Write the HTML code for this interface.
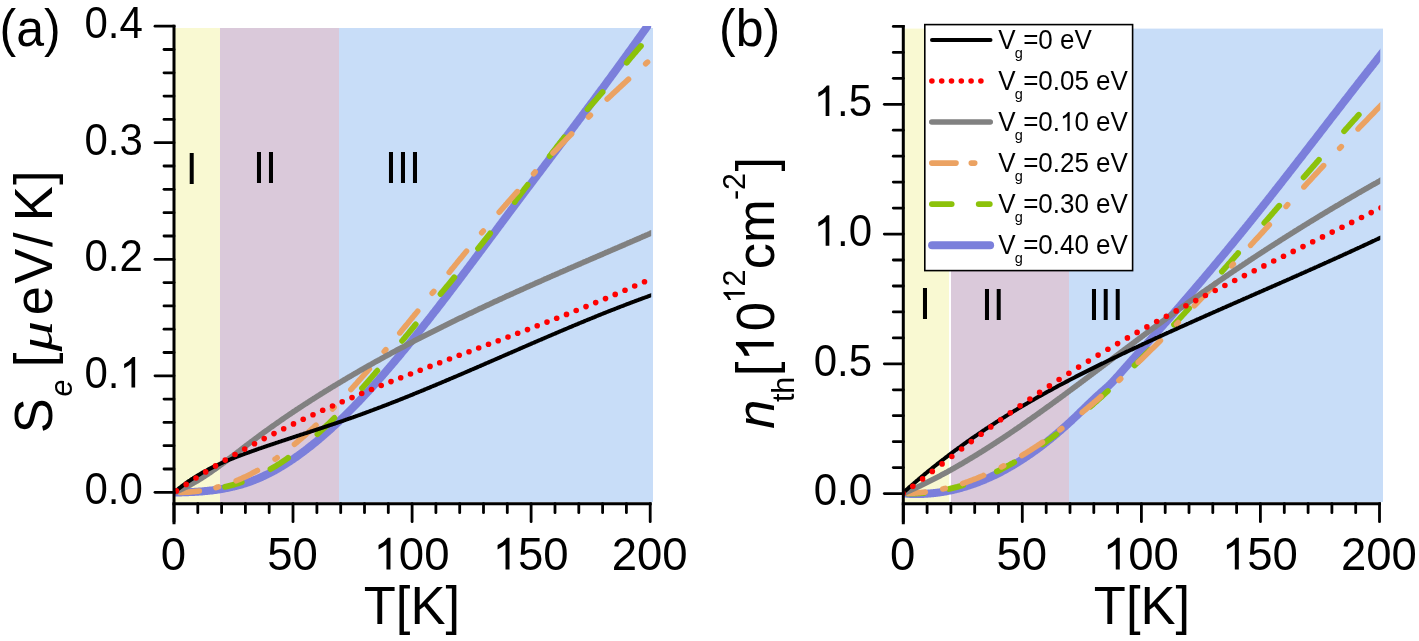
<!DOCTYPE html>
<html><head><meta charset="utf-8"><style>
html,body{margin:0;padding:0;background:#fff;}
svg{display:block;will-change:transform;}
text{font-family:"Liberation Sans",sans-serif;fill:#000;}
.ax{stroke:#000;stroke-width:3;stroke-linecap:square;}
.tk{stroke:#000;stroke-width:2.8;stroke-linecap:round;}
</style></head><body>
<svg width="1419" height="641" viewBox="0 0 1419 641">
<defs>
<clipPath id="ca"><rect x="174" y="25.9" width="477.2" height="477"/></clipPath>
<clipPath id="cb"><rect x="903" y="25.9" width="477.3" height="477"/></clipPath>
</defs>
<rect x="175" y="28" width="45" height="474" fill="#f9f9d2"/>
<rect x="220" y="28" width="119" height="474" fill="#dac9da"/>
<rect x="339" y="28" width="314" height="474" fill="#c8ddf8"/>
<rect x="904" y="28.6" width="45" height="473.4" fill="#f9f9d2"/>
<rect x="951" y="28.6" width="118" height="473.4" fill="#dac9da"/>
<rect x="1069" y="28.6" width="314" height="473.4" fill="#c8ddf8"/>
<g clip-path="url(#ca)" fill="none" stroke-linejoin="round">
<path d="M174.0 492.5 L175.0 492.5 L176.0 492.5 L177.0 492.4 L178.0 492.4 L179.0 492.4 L180.0 492.4 L181.0 492.4 L182.0 492.3 L183.0 492.3 L184.0 492.3 L185.0 492.3 L186.0 492.2 L187.0 492.2 L188.0 492.2 L189.0 492.1 L190.0 492.1 L191.0 492.0 L192.0 492.0 L193.0 492.0 L194.0 491.9 L195.0 491.8 L196.0 491.8 L197.0 491.7 L198.0 491.7 L199.0 491.6 L200.0 491.5 L201.0 491.5 L202.0 491.4 L203.0 491.3 L204.0 491.2 L205.0 491.1 L206.0 491.0 L207.0 490.9 L208.0 490.8 L209.0 490.7 L210.0 490.6 L211.0 490.5 L212.0 490.4 L213.0 490.3 L214.0 490.1 L215.0 490.0 L216.0 489.9 L217.0 489.7 L218.0 489.6 L219.0 489.4 L220.0 489.3 L221.0 489.1 L222.0 488.9 L223.0 488.8 L224.0 488.6 L225.0 488.4 L226.0 488.2 L227.0 488.0 L228.0 487.8 L229.0 487.6 L230.0 487.4 L231.0 487.2 L232.0 486.9 L233.0 486.7 L234.0 486.5 L235.0 486.2 L236.0 486.0 L237.0 485.7 L238.0 485.4 L239.0 485.2 L240.0 484.9 L241.0 484.6 L242.0 484.3 L243.0 484.0 L244.0 483.7 L245.0 483.4 L246.0 483.1 L247.0 482.7 L248.0 482.4 L249.0 482.1 L250.0 481.7 L251.0 481.3 L252.0 481.0 L253.0 480.6 L254.0 480.2 L255.0 479.8 L256.0 479.4 L257.0 479.0 L258.0 478.6 L259.0 478.1 L260.0 477.7 L261.0 477.3 L262.0 476.8 L263.0 476.4 L264.0 475.9 L265.0 475.4 L266.0 474.9 L267.0 474.5 L268.0 474.0 L269.0 473.5 L270.0 472.9 L271.0 472.4 L272.0 471.9 L273.0 471.4 L274.0 470.8 L275.0 470.3 L276.0 469.7 L277.0 469.1 L278.0 468.6 L279.0 468.0 L280.0 467.4 L281.0 466.8 L282.0 466.2 L283.0 465.6 L284.0 465.0 L285.0 464.4 L286.0 463.7 L287.0 463.1 L288.0 462.5 L289.0 461.8 L290.0 461.2 L291.0 460.5 L292.0 459.8 L293.0 459.2 L294.0 458.5 L295.0 457.8 L296.0 457.1 L297.0 456.4 L298.0 455.7 L299.0 455.0 L300.0 454.2 L301.0 453.5 L302.0 452.8 L303.0 452.0 L304.0 451.3 L305.0 450.5 L306.0 449.8 L307.0 449.0 L308.0 448.2 L309.0 447.4 L310.0 446.6 L311.0 445.9 L312.0 445.1 L313.0 444.2 L314.0 443.4 L315.0 442.6 L316.0 441.8 L317.0 441.0 L318.0 440.1 L319.0 439.3 L320.0 438.4 L321.0 437.6 L322.0 436.7 L323.0 435.9 L324.0 435.0 L325.0 434.1 L326.0 433.2 L327.0 432.4 L328.0 431.5 L329.0 430.6 L330.0 429.7 L331.0 428.8 L332.0 427.8 L333.0 426.9 L334.0 426.0 L335.0 425.1 L336.0 424.1 L337.0 423.2 L338.0 422.3 L339.0 421.3 L340.0 420.4 L341.0 419.4 L342.0 418.4 L343.0 417.5 L344.0 416.5 L345.0 415.5 L346.0 414.5 L347.0 413.5 L348.0 412.5 L349.0 411.5 L350.0 410.5 L351.0 409.5 L352.0 408.5 L353.0 407.5 L354.0 406.5 L355.0 405.4 L356.0 404.4 L357.0 403.4 L358.0 402.3 L359.0 401.3 L360.0 400.2 L361.0 399.2 L362.0 398.1 L363.0 397.0 L364.0 396.0 L365.0 394.9 L366.0 393.8 L367.0 392.7 L368.0 391.7 L369.0 390.6 L370.0 389.5 L371.0 388.4 L372.0 387.3 L373.0 386.2 L374.0 385.1 L375.0 384.0 L376.0 382.8 L377.0 381.7 L378.0 380.6 L379.0 379.5 L380.0 378.3 L381.0 377.2 L382.0 376.1 L383.0 374.9 L384.0 373.8 L385.0 372.6 L386.0 371.5 L387.0 370.3 L388.0 369.1 L389.0 368.0 L390.0 366.8 L391.0 365.6 L392.0 364.5 L393.0 363.3 L394.0 362.1 L395.0 360.9 L396.0 359.7 L397.0 358.5 L398.0 357.4 L399.0 356.2 L400.0 355.0 L401.0 353.7 L402.0 352.5 L403.0 351.3 L404.0 350.1 L405.0 348.9 L406.0 347.7 L407.0 346.5 L408.0 345.2 L409.0 344.0 L410.0 342.8 L411.0 341.6 L412.0 340.3 L413.0 339.1 L414.0 337.8 L415.0 336.6 L416.0 335.4 L417.0 334.1 L418.0 332.9 L419.0 331.6 L420.0 330.3 L421.0 329.1 L422.0 327.8 L423.0 326.6 L424.0 325.3 L425.0 324.0 L426.0 322.8 L427.0 321.5 L428.0 320.2 L429.0 318.9 L430.0 317.7 L431.0 316.4 L432.0 315.1 L433.0 313.8 L434.0 312.5 L435.0 311.3 L436.0 310.0 L437.0 308.7 L438.0 307.4 L439.0 306.1 L440.0 304.8 L441.0 303.5 L442.0 302.2 L443.0 300.9 L444.0 299.6 L445.0 298.3 L446.0 297.0 L447.0 295.7 L448.0 294.4 L449.0 293.0 L450.0 291.7 L451.0 290.4 L452.0 289.1 L453.0 287.8 L454.0 286.5 L455.0 285.1 L456.0 283.8 L457.0 282.5 L458.0 281.2 L459.0 279.9 L460.0 278.5 L461.0 277.2 L462.0 275.9 L463.0 274.5 L464.0 273.2 L465.0 271.9 L466.0 270.6 L467.0 269.2 L468.0 267.9 L469.0 266.6 L470.0 265.2 L471.0 263.9 L472.0 262.6 L473.0 261.2 L474.0 259.9 L475.0 258.5 L476.0 257.2 L477.0 255.9 L478.0 254.5 L479.0 253.2 L480.0 251.8 L481.0 250.5 L482.0 249.2 L483.0 247.8 L484.0 246.5 L485.0 245.1 L486.0 243.8 L487.0 242.5 L488.0 241.1 L489.0 239.8 L490.0 238.4 L491.0 237.1 L492.0 235.7 L493.0 234.4 L494.0 233.1 L495.0 231.7 L496.0 230.4 L497.0 229.0 L498.0 227.7 L499.0 226.3 L500.0 225.0 L501.0 223.7 L502.0 222.3 L503.0 221.0 L504.0 219.6 L505.0 218.3 L506.0 217.0 L507.0 215.6 L508.0 214.3 L509.0 212.9 L510.0 211.6 L511.0 210.3 L512.0 208.9 L513.0 207.6 L514.0 206.3 L515.0 204.9 L516.0 203.6 L517.0 202.3 L518.0 200.9 L519.0 199.6 L520.0 198.3 L521.0 196.9 L522.0 195.6 L523.0 194.3 L524.0 192.9 L525.0 191.6 L526.0 190.3 L527.0 188.9 L528.0 187.6 L529.0 186.3 L530.0 185.0 L531.0 183.6 L532.0 182.3 L533.0 181.0 L534.0 179.6 L535.0 178.3 L536.0 177.0 L537.0 175.7 L538.0 174.3 L539.0 173.0 L540.0 171.7 L541.0 170.4 L542.0 169.0 L543.0 167.7 L544.0 166.4 L545.0 165.0 L546.0 163.7 L547.0 162.4 L548.0 161.1 L549.0 159.7 L550.0 158.4 L551.0 157.1 L552.0 155.8 L553.0 154.4 L554.0 153.1 L555.0 151.8 L556.0 150.5 L557.0 149.1 L558.0 147.8 L559.0 146.5 L560.0 145.1 L561.0 143.8 L562.0 142.5 L563.0 141.2 L564.0 139.8 L565.0 138.5 L566.0 137.2 L567.0 135.8 L568.0 134.5 L569.0 133.2 L570.0 131.8 L571.0 130.5 L572.0 129.2 L573.0 127.8 L574.0 126.5 L575.0 125.2 L576.0 123.8 L577.0 122.5 L578.0 121.2 L579.0 119.8 L580.0 118.5 L581.0 117.2 L582.0 115.8 L583.0 114.5 L584.0 113.1 L585.0 111.8 L586.0 110.5 L587.0 109.1 L588.0 107.8 L589.0 106.4 L590.0 105.1 L591.0 103.8 L592.0 102.4 L593.0 101.1 L594.0 99.7 L595.0 98.4 L596.0 97.0 L597.0 95.7 L598.0 94.3 L599.0 93.0 L600.0 91.6 L601.0 90.3 L602.0 88.9 L603.0 87.6 L604.0 86.2 L605.0 84.9 L606.0 83.5 L607.0 82.1 L608.0 80.8 L609.0 79.4 L610.0 78.1 L611.0 76.7 L612.0 75.3 L613.0 74.0 L614.0 72.6 L615.0 71.2 L616.0 69.9 L617.0 68.5 L618.0 67.1 L619.0 65.8 L620.0 64.4 L621.0 63.0 L622.0 61.6 L623.0 60.3 L624.0 58.9 L625.0 57.5 L626.0 56.1 L627.0 54.7 L628.0 53.3 L629.0 52.0 L630.0 50.6 L631.0 49.2 L632.0 47.8 L633.0 46.4 L634.0 45.0 L635.0 43.6 L636.0 42.2 L637.0 40.8 L638.0 39.4 L639.0 38.0 L640.0 36.6 L641.0 35.2 L642.0 33.8 L643.0 32.4 L644.0 31.0 L645.0 29.6 L646.0 28.2 L647.0 26.8 L648.0 25.4 L649.0 24.0 L650.0 22.5 L651.0 21.1 L652.0 19.7 L653.0 18.3 L654.0 16.8 L655.0 15.4 L656.0 14.0 L657.0 12.6" stroke="#7b7fdb" stroke-width="8"/>
<path d="M225.0 486.9 L226.0 486.6 L227.0 486.4 L228.0 486.2 L229.0 485.9 L230.0 485.7 L231.0 485.4 L232.0 485.2 L233.0 484.9 L234.0 484.6 L235.0 484.3 L236.0 484.0 L237.0 483.7 L238.0 483.4 L239.0 483.1 L240.0 482.8 L241.0 482.4 L241.8 482.2 M270.5 469.1 L271.0 468.8 L272.0 468.2 L273.0 467.7 L274.0 467.1 L275.0 466.5 L276.0 465.9 L277.0 465.2 L278.0 464.6 L279.0 464.0 L280.0 463.4 L281.0 462.7 L282.0 462.1 L283.0 461.4 L284.0 460.7 L285.0 460.1 L286.0 459.4 L287.0 458.7 L288.0 458.0 L288.1 457.9 M317.4 434.2 L318.0 433.6 L319.0 432.7 L320.0 431.8 L321.0 430.8 L322.0 429.9 L323.0 429.0 L324.0 428.0 L325.0 427.1 L326.0 426.1 L327.0 425.1 L328.0 424.2 L329.0 423.2 L330.0 422.2 L331.0 421.2 L332.0 420.2 L333.0 419.2 L334.0 418.2 L334.4 417.9 M362.0 388.3 L363.0 387.2 L364.0 386.0 L365.0 384.9 L366.0 383.8 L367.0 382.6 L368.0 381.5 L369.0 380.3 L370.0 379.2 L371.0 378.0 L372.0 376.9 L373.0 375.7 L374.0 374.5 L375.0 373.4 L376.0 372.2 L377.0 371.0 L377.3 370.7 M402.1 340.9 L403.0 339.9 L404.0 338.7 L405.0 337.4 L406.0 336.2 L407.0 335.0 L408.0 333.8 L409.0 332.6 L410.0 331.3 L411.0 330.1 L412.0 328.9 L413.0 327.7 L414.0 326.4 L415.0 325.2 L415.7 324.4 M440.5 294.0 L441.0 293.4 L442.0 292.2 L443.0 291.0 L444.0 289.8 L445.0 288.6 L446.0 287.4 L447.0 286.2 L448.0 285.0 L449.0 283.8 L450.0 282.6 L451.0 281.4 L452.0 280.1 L453.0 278.9 L454.0 277.7 L454.3 277.3 M478.0 248.5 L479.0 247.3 L480.0 246.1 L481.0 244.9 L482.0 243.6 L483.0 242.4 L484.0 241.1 L485.0 239.9 L486.0 238.6 L487.0 237.4 L488.0 236.1 L489.0 234.9 L490.0 233.6 L490.2 233.3 M514.7 201.9 L515.0 201.4 L516.0 200.1 L517.0 198.8 L518.0 197.5 L519.0 196.2 L520.0 194.9 L521.0 193.6 L522.0 192.3 L523.0 191.0 L524.0 189.6 L525.0 188.3 L526.0 187.0 L527.0 185.7 L527.6 184.9 M549.7 156.1 L550.0 155.7 L551.0 154.4 L552.0 153.1 L553.0 151.8 L554.0 150.5 L555.0 149.2 L556.0 147.9 L557.0 146.6 L558.0 145.3 L559.0 144.1 L560.0 142.8 L561.0 141.5 L562.0 140.2 L563.0 139.0 L564.0 137.7 L564.3 137.3 M587.5 109.2 L588.0 108.7 L589.0 107.5 L590.0 106.4 L591.0 105.2 L592.0 104.1 L593.0 103.0 L594.0 101.8 L595.0 100.7 L596.0 99.6 L597.0 98.4 L598.0 97.3 L599.0 96.1 L600.0 95.0 L601.0 93.8 L602.0 92.7 L602.6 92.0 M626.7 62.7 L627.0 62.4 L628.0 61.1 L629.0 59.9 L630.0 58.7 L631.0 57.5 L632.0 56.3 L633.0 55.1 L634.0 53.9 L635.0 52.8 L636.0 51.6 L637.0 50.4 L638.0 49.3 L639.0 48.1 L640.0 47.0 L640.9 46.0" stroke="#8cc20a" stroke-width="5.8" stroke-linecap="round"/>
<path d="M180.1 492.4 L181.0 492.4 L182.0 492.4 L183.0 492.4 L184.0 492.3 L185.0 492.3 L186.0 492.3 L187.0 492.2 L188.0 492.1 L189.0 492.1 L190.0 492.0 L191.0 491.9 L192.0 491.8 L193.0 491.7 L194.0 491.6 L195.0 491.5 L196.0 491.4 L197.0 491.3 L198.0 491.2 L199.0 491.0 L199.3 491.0 M216.0 487.6 L217.0 487.3 L218.0 487.0 L218.4 486.9 M236.2 480.8 L237.0 480.4 L238.0 480.0 L239.0 479.6 L240.0 479.2 L241.0 478.7 L242.0 478.3 L243.0 477.8 L244.0 477.3 L245.0 476.9 L246.0 476.4 L247.0 475.9 L248.0 475.4 L249.0 474.9 L250.0 474.4 L251.0 473.9 L252.0 473.3 L253.0 472.8 L254.0 472.3 L255.0 471.7 L256.0 471.2 L257.0 470.6 L257.4 470.4 M275.1 459.1 L276.0 458.5 L277.0 457.8 L277.1 457.7 M294.5 444.3 L295.0 443.9 L296.0 443.0 L297.0 442.2 L298.0 441.3 L299.0 440.5 L300.0 439.6 L301.0 438.8 L302.0 437.9 L303.0 437.0 L304.0 436.2 L305.0 435.3 L306.0 434.4 L307.0 433.5 L308.0 432.6 L309.0 431.7 L310.0 430.8 L311.0 429.8 L312.0 428.9 L313.0 428.0 L314.0 427.1 L315.0 426.1 L316.0 425.2 M332.5 409.0 L333.0 408.4 L334.0 407.4 L334.1 407.3 M350.9 389.5 L351.0 389.4 L352.0 388.3 L353.0 387.2 L354.0 386.1 L355.0 385.0 L356.0 383.9 L357.0 382.8 L358.0 381.6 L359.0 380.5 L360.0 379.4 L361.0 378.3 L362.0 377.2 L363.0 376.0 L364.0 374.9 L365.0 373.8 L366.0 372.6 L367.0 371.5 L368.0 370.4 L369.0 369.2 L369.3 368.9 M384.2 351.5 L385.0 350.6 L385.8 349.7 M399.8 332.9 L400.0 332.7 L401.0 331.5 L402.0 330.2 L403.0 329.0 L404.0 327.8 L405.0 326.6 L406.0 325.4 L407.0 324.2 L408.0 323.0 L409.0 321.7 L410.0 320.5 L411.0 319.3 L412.0 318.1 L413.0 316.9 L414.0 315.6 L415.0 314.4 L416.0 313.2 L417.0 312.0 L417.7 311.1 M432.2 293.2 L433.0 292.3 L433.8 291.4 M449.2 272.4 L450.0 271.4 L451.0 270.1 L452.0 268.9 L453.0 267.7 L454.0 266.5 L455.0 265.2 L456.0 264.0 L457.0 262.8 L458.0 261.5 L459.0 260.3 L460.0 259.1 L461.0 257.9 L462.0 256.7 L463.0 255.4 L464.0 254.2 L465.0 253.0 L466.0 251.8 L466.5 251.2 M481.7 232.8 L482.0 232.5 L483.0 231.3 L483.3 231.0 M499.2 212.2 L500.0 211.3 L501.0 210.2 L502.0 209.0 L503.0 207.9 L504.0 206.7 L505.0 205.6 L506.0 204.4 L507.0 203.3 L508.0 202.1 L509.0 201.0 L510.0 199.9 L511.0 198.7 L512.0 197.6 L513.0 196.5 L514.0 195.3 L515.0 194.2 L516.0 193.1 L517.0 192.0 L517.3 191.6 M533.6 173.7 L534.0 173.3 L535.0 172.2 L535.2 171.9 M553.0 153.0 L554.0 152.0 L555.0 151.0 L556.0 149.9 L557.0 148.9 L558.0 147.9 L559.0 146.8 L560.0 145.8 L561.0 144.8 L562.0 143.7 L563.0 142.7 L564.0 141.7 L565.0 140.7 L566.0 139.6 L567.0 138.6 L568.0 137.6 L569.0 136.6 L570.0 135.6 L571.0 134.6 L571.6 133.9 M588.6 117.0 L589.0 116.6 L590.0 115.7 L590.4 115.3 M607.2 99.1 L608.0 98.3 L609.0 97.4 L610.0 96.5 L611.0 95.5 L612.0 94.6 L613.0 93.6 L614.0 92.7 L615.0 91.7 L616.0 90.8 L617.0 89.9 L618.0 88.9 L619.0 88.0 L620.0 87.1 L621.0 86.2 L622.0 85.2 L623.0 84.3 L624.0 83.4 L625.0 82.5 L626.0 81.5 L627.0 80.6 L628.0 79.7 L628.5 79.2 M645.7 63.7 L646.0 63.4 L647.0 62.5 L647.5 62.1" stroke="#eba262" stroke-width="5.6" stroke-linecap="round"/>
<path d="M174.0 492.5 L175.0 492.1 L176.0 491.7 L177.0 491.3 L178.0 490.9 L179.0 490.4 L180.0 490.0 L181.0 489.5 L182.0 489.0 L183.0 488.6 L184.0 488.1 L185.0 487.6 L186.0 487.1 L187.0 486.5 L188.0 486.0 L189.0 485.5 L190.0 485.0 L191.0 484.4 L192.0 483.8 L193.0 483.3 L194.0 482.7 L195.0 482.1 L196.0 481.5 L197.0 481.0 L198.0 480.4 L199.0 479.7 L200.0 479.1 L201.0 478.5 L202.0 477.9 L203.0 477.2 L204.0 476.6 L205.0 475.9 L206.0 475.3 L207.0 474.6 L208.0 474.0 L209.0 473.3 L210.0 472.6 L211.0 471.9 L212.0 471.2 L213.0 470.5 L214.0 469.8 L215.0 469.1 L216.0 468.4 L217.0 467.7 L218.0 467.0 L219.0 466.2 L220.0 465.5 L221.0 464.8 L222.0 464.0 L223.0 463.3 L224.0 462.6 L225.0 461.8 L226.0 461.1 L227.0 460.3 L228.0 459.6 L229.0 458.8 L230.0 458.0 L231.0 457.3 L232.0 456.5 L233.0 455.8 L234.0 455.0 L235.0 454.2 L236.0 453.5 L237.0 452.7 L238.0 451.9 L239.0 451.2 L240.0 450.4 L241.0 449.6 L242.0 448.9 L243.0 448.1 L244.0 447.3 L245.0 446.6 L246.0 445.8 L247.0 445.0 L248.0 444.3 L249.0 443.5 L250.0 442.8 L251.0 442.0 L252.0 441.2 L253.0 440.5 L254.0 439.7 L255.0 439.0 L256.0 438.2 L257.0 437.5 L258.0 436.8 L259.0 436.0 L260.0 435.3 L261.0 434.5 L262.0 433.8 L263.0 433.1 L264.0 432.3 L265.0 431.6 L266.0 430.9 L267.0 430.2 L268.0 429.5 L269.0 428.7 L270.0 428.0 L271.0 427.3 L272.0 426.6 L273.0 425.9 L274.0 425.2 L275.0 424.5 L276.0 423.8 L277.0 423.1 L278.0 422.4 L279.0 421.7 L280.0 421.0 L281.0 420.3 L282.0 419.6 L283.0 418.9 L284.0 418.2 L285.0 417.5 L286.0 416.8 L287.0 416.2 L288.0 415.5 L289.0 414.8 L290.0 414.1 L291.0 413.5 L292.0 412.8 L293.0 412.1 L294.0 411.4 L295.0 410.8 L296.0 410.1 L297.0 409.4 L298.0 408.8 L299.0 408.1 L300.0 407.5 L301.0 406.8 L302.0 406.2 L303.0 405.5 L304.0 404.8 L305.0 404.2 L306.0 403.6 L307.0 402.9 L308.0 402.3 L309.0 401.6 L310.0 401.0 L311.0 400.3 L312.0 399.7 L313.0 399.1 L314.0 398.4 L315.0 397.8 L316.0 397.2 L317.0 396.5 L318.0 395.9 L319.0 395.3 L320.0 394.6 L321.0 394.0 L322.0 393.4 L323.0 392.8 L324.0 392.1 L325.0 391.5 L326.0 390.9 L327.0 390.3 L328.0 389.7 L329.0 389.1 L330.0 388.4 L331.0 387.8 L332.0 387.2 L333.0 386.6 L334.0 386.0 L335.0 385.4 L336.0 384.8 L337.0 384.2 L338.0 383.6 L339.0 383.0 L340.0 382.4 L341.0 381.8 L342.0 381.2 L343.0 380.6 L344.0 380.0 L345.0 379.4 L346.0 378.8 L347.0 378.2 L348.0 377.6 L349.0 377.0 L350.0 376.5 L351.0 375.9 L352.0 375.3 L353.0 374.7 L354.0 374.1 L355.0 373.5 L356.0 373.0 L357.0 372.4 L358.0 371.8 L359.0 371.2 L360.0 370.6 L361.0 370.1 L362.0 369.5 L363.0 368.9 L364.0 368.3 L365.0 367.8 L366.0 367.2 L367.0 366.6 L368.0 366.1 L369.0 365.5 L370.0 364.9 L371.0 364.4 L372.0 363.8 L373.0 363.3 L374.0 362.7 L375.0 362.1 L376.0 361.6 L377.0 361.0 L378.0 360.5 L379.0 359.9 L380.0 359.4 L381.0 358.8 L382.0 358.3 L383.0 357.7 L384.0 357.2 L385.0 356.6 L386.0 356.1 L387.0 355.5 L388.0 355.0 L389.0 354.4 L390.0 353.9 L391.0 353.3 L392.0 352.8 L393.0 352.3 L394.0 351.7 L395.0 351.2 L396.0 350.6 L397.0 350.1 L398.0 349.6 L399.0 349.0 L400.0 348.5 L401.0 348.0 L402.0 347.4 L403.0 346.9 L404.0 346.4 L405.0 345.9 L406.0 345.3 L407.0 344.8 L408.0 344.3 L409.0 343.8 L410.0 343.2 L411.0 342.7 L412.0 342.2 L413.0 341.7 L414.0 341.1 L415.0 340.6 L416.0 340.1 L417.0 339.6 L418.0 339.1 L419.0 338.6 L420.0 338.0 L421.0 337.5 L422.0 337.0 L423.0 336.5 L424.0 336.0 L425.0 335.5 L426.0 335.0 L427.0 334.5 L428.0 334.0 L429.0 333.5 L430.0 332.9 L431.0 332.4 L432.0 331.9 L433.0 331.4 L434.0 330.9 L435.0 330.4 L436.0 329.9 L437.0 329.4 L438.0 328.9 L439.0 328.4 L440.0 327.9 L441.0 327.4 L442.0 326.9 L443.0 326.4 L444.0 326.0 L445.0 325.5 L446.0 325.0 L447.0 324.5 L448.0 324.0 L449.0 323.5 L450.0 323.0 L451.0 322.5 L452.0 322.0 L453.0 321.5 L454.0 321.0 L455.0 320.6 L456.0 320.1 L457.0 319.6 L458.0 319.1 L459.0 318.6 L460.0 318.1 L461.0 317.7 L462.0 317.2 L463.0 316.7 L464.0 316.2 L465.0 315.7 L466.0 315.3 L467.0 314.8 L468.0 314.3 L469.0 313.8 L470.0 313.3 L471.0 312.9 L472.0 312.4 L473.0 311.9 L474.0 311.5 L475.0 311.0 L476.0 310.5 L477.0 310.0 L478.0 309.6 L479.0 309.1 L480.0 308.6 L481.0 308.2 L482.0 307.7 L483.0 307.2 L484.0 306.7 L485.0 306.3 L486.0 305.8 L487.0 305.3 L488.0 304.9 L489.0 304.4 L490.0 304.0 L491.0 303.5 L492.0 303.0 L493.0 302.6 L494.0 302.1 L495.0 301.6 L496.0 301.2 L497.0 300.7 L498.0 300.3 L499.0 299.8 L500.0 299.3 L501.0 298.9 L502.0 298.4 L503.0 298.0 L504.0 297.5 L505.0 297.1 L506.0 296.6 L507.0 296.1 L508.0 295.7 L509.0 295.2 L510.0 294.8 L511.0 294.3 L512.0 293.9 L513.0 293.4 L514.0 293.0 L515.0 292.5 L516.0 292.1 L517.0 291.6 L518.0 291.2 L519.0 290.7 L520.0 290.3 L521.0 289.8 L522.0 289.4 L523.0 288.9 L524.0 288.5 L525.0 288.0 L526.0 287.6 L527.0 287.1 L528.0 286.7 L529.0 286.2 L530.0 285.8 L531.0 285.3 L532.0 284.9 L533.0 284.5 L534.0 284.0 L535.0 283.6 L536.0 283.1 L537.0 282.7 L538.0 282.2 L539.0 281.8 L540.0 281.4 L541.0 280.9 L542.0 280.5 L543.0 280.0 L544.0 279.6 L545.0 279.1 L546.0 278.7 L547.0 278.3 L548.0 277.8 L549.0 277.4 L550.0 276.9 L551.0 276.5 L552.0 276.1 L553.0 275.6 L554.0 275.2 L555.0 274.8 L556.0 274.3 L557.0 273.9 L558.0 273.4 L559.0 273.0 L560.0 272.6 L561.0 272.1 L562.0 271.7 L563.0 271.3 L564.0 270.8 L565.0 270.4 L566.0 270.0 L567.0 269.5 L568.0 269.1 L569.0 268.6 L570.0 268.2 L571.0 267.8 L572.0 267.3 L573.0 266.9 L574.0 266.5 L575.0 266.0 L576.0 265.6 L577.0 265.2 L578.0 264.7 L579.0 264.3 L580.0 263.9 L581.0 263.4 L582.0 263.0 L583.0 262.6 L584.0 262.1 L585.0 261.7 L586.0 261.3 L587.0 260.8 L588.0 260.4 L589.0 260.0 L590.0 259.5 L591.0 259.1 L592.0 258.7 L593.0 258.2 L594.0 257.8 L595.0 257.4 L596.0 256.9 L597.0 256.5 L598.0 256.1 L599.0 255.7 L600.0 255.2 L601.0 254.8 L602.0 254.4 L603.0 253.9 L604.0 253.5 L605.0 253.1 L606.0 252.6 L607.0 252.2 L608.0 251.8 L609.0 251.3 L610.0 250.9 L611.0 250.5 L612.0 250.0 L613.0 249.6 L614.0 249.2 L615.0 248.7 L616.0 248.3 L617.0 247.9 L618.0 247.5 L619.0 247.0 L620.0 246.6 L621.0 246.2 L622.0 245.7 L623.0 245.3 L624.0 244.9 L625.0 244.4 L626.0 244.0 L627.0 243.6 L628.0 243.1 L629.0 242.7 L630.0 242.3 L631.0 241.8 L632.0 241.4 L633.0 241.0 L634.0 240.5 L635.0 240.1 L636.0 239.7 L637.0 239.2 L638.0 238.8 L639.0 238.4 L640.0 237.9 L641.0 237.5 L642.0 237.1 L643.0 236.6 L644.0 236.2 L645.0 235.8 L646.0 235.3 L647.0 234.9 L648.0 234.5 L649.0 234.0 L650.0 233.6 L651.0 233.1 L652.0 232.7 L653.0 232.3 L654.0 231.8 L655.0 231.4 L656.0 231.0 L657.0 230.5" stroke="#818181" stroke-width="5.6"/>
<path d="M174.0 492.5 L175.0 491.7 L176.0 490.8 L177.0 490.0 L178.0 489.2 L179.0 488.4 L180.0 487.6 L181.0 486.9 L182.0 486.1 L183.0 485.3 L184.0 484.6 L185.0 483.9 L186.0 483.1 L187.0 482.4 L188.0 481.7 L189.0 481.0 L190.0 480.4 L191.0 479.7 L192.0 479.0 L193.0 478.4 L194.0 477.7 L195.0 477.1 L196.0 476.5 L197.0 475.9 L198.0 475.3 L199.0 474.7 L200.0 474.1 L201.0 473.5 L202.0 472.9 L203.0 472.3 L204.0 471.8 L205.0 471.2 L206.0 470.7 L207.0 470.2 L208.0 469.6 L209.0 469.1 L210.0 468.6 L211.0 468.1 L212.0 467.6 L213.0 467.1 L214.0 466.6 L215.0 466.1 L216.0 465.6 L217.0 465.2 L218.0 464.7 L219.0 464.2 L220.0 463.8 L221.0 463.3 L222.0 462.9 L223.0 462.4 L224.0 462.0 L225.0 461.6 L226.0 461.2 L227.0 460.7 L228.0 460.3 L229.0 459.9 L230.0 459.5 L231.0 459.1 L232.0 458.7 L233.0 458.3 L234.0 457.9 L235.0 457.5 L236.0 457.1 L237.0 456.7 L238.0 456.4 L239.0 456.0 L240.0 455.6 L241.0 455.2 L242.0 454.9 L243.0 454.5 L244.0 454.1 L245.0 453.7 L246.0 453.4 L247.0 453.0 L248.0 452.7 L249.0 452.3 L250.0 451.9 L251.0 451.6 L252.0 451.2 L253.0 450.9 L254.0 450.5 L255.0 450.2 L256.0 449.8 L257.0 449.4 L258.0 449.1 L259.0 448.7 L260.0 448.4 L261.0 448.1 L262.0 447.7 L263.0 447.4 L264.0 447.0 L265.0 446.7 L266.0 446.3 L267.0 446.0 L268.0 445.6 L269.0 445.3 L270.0 445.0 L271.0 444.6 L272.0 444.3 L273.0 444.0 L274.0 443.6 L275.0 443.3 L276.0 442.9 L277.0 442.6 L278.0 442.3 L279.0 441.9 L280.0 441.6 L281.0 441.3 L282.0 440.9 L283.0 440.6 L284.0 440.3 L285.0 440.0 L286.0 439.6 L287.0 439.3 L288.0 439.0 L289.0 438.6 L290.0 438.3 L291.0 438.0 L292.0 437.7 L293.0 437.3 L294.0 437.0 L295.0 436.7 L296.0 436.3 L297.0 436.0 L298.0 435.7 L299.0 435.4 L300.0 435.0 L301.0 434.7 L302.0 434.4 L303.0 434.1 L304.0 433.7 L305.0 433.4 L306.0 433.1 L307.0 432.8 L308.0 432.4 L309.0 432.1 L310.0 431.8 L311.0 431.4 L312.0 431.1 L313.0 430.8 L314.0 430.5 L315.0 430.1 L316.0 429.8 L317.0 429.5 L318.0 429.2 L319.0 428.8 L320.0 428.5 L321.0 428.2 L322.0 427.8 L323.0 427.5 L324.0 427.2 L325.0 426.8 L326.0 426.5 L327.0 426.2 L328.0 425.8 L329.0 425.5 L330.0 425.2 L331.0 424.8 L332.0 424.5 L333.0 424.2 L334.0 423.8 L335.0 423.5 L336.0 423.2 L337.0 422.8 L338.0 422.5 L339.0 422.1 L340.0 421.8 L341.0 421.5 L342.0 421.1 L343.0 420.8 L344.0 420.4 L345.0 420.1 L346.0 419.7 L347.0 419.4 L348.0 419.0 L349.0 418.7 L350.0 418.3 L351.0 418.0 L352.0 417.6 L353.0 417.3 L354.0 416.9 L355.0 416.6 L356.0 416.2 L357.0 415.9 L358.0 415.5 L359.0 415.1 L360.0 414.8 L361.0 414.4 L362.0 414.1 L363.0 413.7 L364.0 413.3 L365.0 413.0 L366.0 412.6 L367.0 412.2 L368.0 411.9 L369.0 411.5 L370.0 411.1 L371.0 410.7 L372.0 410.4 L373.0 410.0 L374.0 409.6 L375.0 409.2 L376.0 408.9 L377.0 408.5 L378.0 408.1 L379.0 407.7 L380.0 407.4 L381.0 407.0 L382.0 406.6 L383.0 406.2 L384.0 405.8 L385.0 405.4 L386.0 405.1 L387.0 404.7 L388.0 404.3 L389.0 403.9 L390.0 403.5 L391.0 403.1 L392.0 402.7 L393.0 402.3 L394.0 401.9 L395.0 401.6 L396.0 401.2 L397.0 400.8 L398.0 400.4 L399.0 400.0 L400.0 399.6 L401.0 399.2 L402.0 398.8 L403.0 398.4 L404.0 398.0 L405.0 397.6 L406.0 397.2 L407.0 396.8 L408.0 396.4 L409.0 396.0 L410.0 395.6 L411.0 395.2 L412.0 394.8 L413.0 394.4 L414.0 393.9 L415.0 393.5 L416.0 393.1 L417.0 392.7 L418.0 392.3 L419.0 391.9 L420.0 391.5 L421.0 391.1 L422.0 390.7 L423.0 390.3 L424.0 389.9 L425.0 389.4 L426.0 389.0 L427.0 388.6 L428.0 388.2 L429.0 387.8 L430.0 387.4 L431.0 386.9 L432.0 386.5 L433.0 386.1 L434.0 385.7 L435.0 385.3 L436.0 384.9 L437.0 384.4 L438.0 384.0 L439.0 383.6 L440.0 383.2 L441.0 382.8 L442.0 382.3 L443.0 381.9 L444.0 381.5 L445.0 381.1 L446.0 380.6 L447.0 380.2 L448.0 379.8 L449.0 379.4 L450.0 378.9 L451.0 378.5 L452.0 378.1 L453.0 377.7 L454.0 377.2 L455.0 376.8 L456.0 376.4 L457.0 376.0 L458.0 375.5 L459.0 375.1 L460.0 374.7 L461.0 374.3 L462.0 373.8 L463.0 373.4 L464.0 373.0 L465.0 372.5 L466.0 372.1 L467.0 371.7 L468.0 371.2 L469.0 370.8 L470.0 370.4 L471.0 369.9 L472.0 369.5 L473.0 369.1 L474.0 368.7 L475.0 368.2 L476.0 367.8 L477.0 367.4 L478.0 366.9 L479.0 366.5 L480.0 366.1 L481.0 365.6 L482.0 365.2 L483.0 364.8 L484.0 364.3 L485.0 363.9 L486.0 363.4 L487.0 363.0 L488.0 362.6 L489.0 362.1 L490.0 361.7 L491.0 361.3 L492.0 360.8 L493.0 360.4 L494.0 360.0 L495.0 359.5 L496.0 359.1 L497.0 358.7 L498.0 358.2 L499.0 357.8 L500.0 357.4 L501.0 356.9 L502.0 356.5 L503.0 356.0 L504.0 355.6 L505.0 355.2 L506.0 354.7 L507.0 354.3 L508.0 353.9 L509.0 353.4 L510.0 353.0 L511.0 352.6 L512.0 352.1 L513.0 351.7 L514.0 351.3 L515.0 350.8 L516.0 350.4 L517.0 350.0 L518.0 349.5 L519.0 349.1 L520.0 348.6 L521.0 348.2 L522.0 347.8 L523.0 347.3 L524.0 346.9 L525.0 346.5 L526.0 346.0 L527.0 345.6 L528.0 345.2 L529.0 344.7 L530.0 344.3 L531.0 343.9 L532.0 343.4 L533.0 343.0 L534.0 342.6 L535.0 342.1 L536.0 341.7 L537.0 341.3 L538.0 340.8 L539.0 340.4 L540.0 340.0 L541.0 339.6 L542.0 339.1 L543.0 338.7 L544.0 338.3 L545.0 337.8 L546.0 337.4 L547.0 337.0 L548.0 336.5 L549.0 336.1 L550.0 335.7 L551.0 335.3 L552.0 334.8 L553.0 334.4 L554.0 334.0 L555.0 333.6 L556.0 333.1 L557.0 332.7 L558.0 332.3 L559.0 331.8 L560.0 331.4 L561.0 331.0 L562.0 330.6 L563.0 330.2 L564.0 329.7 L565.0 329.3 L566.0 328.9 L567.0 328.5 L568.0 328.0 L569.0 327.6 L570.0 327.2 L571.0 326.8 L572.0 326.4 L573.0 325.9 L574.0 325.5 L575.0 325.1 L576.0 324.7 L577.0 324.3 L578.0 323.9 L579.0 323.4 L580.0 323.0 L581.0 322.6 L582.0 322.2 L583.0 321.8 L584.0 321.4 L585.0 320.9 L586.0 320.5 L587.0 320.1 L588.0 319.7 L589.0 319.3 L590.0 318.9 L591.0 318.5 L592.0 318.1 L593.0 317.7 L594.0 317.3 L595.0 316.9 L596.0 316.4 L597.0 316.0 L598.0 315.6 L599.0 315.2 L600.0 314.8 L601.0 314.4 L602.0 314.0 L603.0 313.6 L604.0 313.2 L605.0 312.8 L606.0 312.4 L607.0 312.0 L608.0 311.6 L609.0 311.2 L610.0 310.8 L611.0 310.4 L612.0 310.0 L613.0 309.7 L614.0 309.3 L615.0 308.9 L616.0 308.5 L617.0 308.1 L618.0 307.7 L619.0 307.3 L620.0 306.9 L621.0 306.5 L622.0 306.1 L623.0 305.8 L624.0 305.4 L625.0 305.0 L626.0 304.6 L627.0 304.2 L628.0 303.8 L629.0 303.5 L630.0 303.1 L631.0 302.7 L632.0 302.3 L633.0 301.9 L634.0 301.6 L635.0 301.2 L636.0 300.8 L637.0 300.4 L638.0 300.1 L639.0 299.7 L640.0 299.3 L641.0 299.0 L642.0 298.6 L643.0 298.2 L644.0 297.9 L645.0 297.5 L646.0 297.1 L647.0 296.8 L648.0 296.4 L649.0 296.0 L650.0 295.7 L651.0 295.3 L652.0 295.0 L653.0 294.6 L654.0 294.2 L655.0 293.9 L656.0 293.5 L657.0 293.2" stroke="#000" stroke-width="4"/>
<g fill="#f00" stroke="none"><circle cx="176.4" cy="490.9" r="2.80"/><circle cx="186.2" cy="484.4" r="2.80"/><circle cx="196.0" cy="478.0" r="2.80"/><circle cx="205.7" cy="471.9" r="2.80"/><circle cx="215.5" cy="465.9" r="2.80"/><circle cx="225.2" cy="460.1" r="2.80"/><circle cx="235.0" cy="454.5" r="2.80"/><circle cx="244.7" cy="449.1" r="2.80"/><circle cx="254.5" cy="443.8" r="2.80"/><circle cx="264.2" cy="438.6" r="2.80"/><circle cx="274.0" cy="433.6" r="2.80"/><circle cx="283.7" cy="428.7" r="2.80"/><circle cx="293.5" cy="423.9" r="2.80"/><circle cx="303.2" cy="419.3" r="2.80"/><circle cx="313.0" cy="414.7" r="2.80"/><circle cx="322.7" cy="410.3" r="2.80"/><circle cx="332.5" cy="406.0" r="2.80"/><circle cx="342.2" cy="401.7" r="2.80"/><circle cx="352.0" cy="397.6" r="2.80"/><circle cx="361.7" cy="393.5" r="2.80"/><circle cx="371.5" cy="389.5" r="2.80"/><circle cx="381.2" cy="385.5" r="2.80"/><circle cx="391.0" cy="381.6" r="2.80"/><circle cx="400.7" cy="377.8" r="2.80"/><circle cx="410.5" cy="374.0" r="2.80"/><circle cx="420.2" cy="370.2" r="2.80"/><circle cx="430.0" cy="366.4" r="2.80"/><circle cx="439.7" cy="362.7" r="2.80"/><circle cx="449.5" cy="359.0" r="2.80"/><circle cx="459.2" cy="355.3" r="2.80"/><circle cx="469.0" cy="351.7" r="2.80"/><circle cx="478.7" cy="348.0" r="2.80"/><circle cx="488.5" cy="344.3" r="2.80"/><circle cx="498.2" cy="340.7" r="2.80"/><circle cx="508.0" cy="337.0" r="2.80"/><circle cx="517.7" cy="333.3" r="2.80"/><circle cx="527.5" cy="329.6" r="2.80"/><circle cx="537.2" cy="325.8" r="2.80"/><circle cx="547.0" cy="322.1" r="2.80"/><circle cx="556.7" cy="318.2" r="2.80"/><circle cx="566.5" cy="314.4" r="2.80"/><circle cx="576.2" cy="310.5" r="2.80"/><circle cx="586.0" cy="306.6" r="2.80"/><circle cx="595.7" cy="302.6" r="2.80"/><circle cx="605.5" cy="298.6" r="2.80"/><circle cx="615.2" cy="294.4" r="2.80"/><circle cx="625.0" cy="290.3" r="2.80"/><circle cx="634.7" cy="286.0" r="2.80"/><circle cx="644.5" cy="281.7" r="2.80"/></g>
</g>
<g clip-path="url(#cb)" fill="none" stroke-linejoin="round">
<path d="M903.3 493.4 L904.3 493.5 L905.3 493.6 L906.3 493.6 L907.3 493.7 L908.3 493.8 L909.3 493.8 L910.3 493.9 L911.3 493.9 L912.3 493.9 L913.3 494.0 L914.3 494.0 L915.3 494.0 L916.3 494.0 L917.3 494.0 L918.3 494.0 L919.3 494.0 L920.3 494.0 L921.3 493.9 L922.3 493.9 L923.3 493.9 L924.3 493.8 L925.3 493.8 L926.3 493.7 L927.3 493.7 L928.3 493.6 L929.3 493.5 L930.3 493.4 L931.3 493.3 L932.3 493.3 L933.3 493.2 L934.3 493.0 L935.3 492.9 L936.3 492.8 L937.3 492.7 L938.3 492.6 L939.3 492.4 L940.3 492.3 L941.3 492.1 L942.3 492.0 L943.3 491.8 L944.3 491.6 L945.3 491.5 L946.3 491.3 L947.3 491.1 L948.3 490.9 L949.3 490.7 L950.3 490.5 L951.3 490.3 L952.3 490.1 L953.3 489.8 L954.3 489.6 L955.3 489.4 L956.3 489.1 L957.3 488.9 L958.3 488.6 L959.3 488.3 L960.3 488.1 L961.3 487.8 L962.3 487.5 L963.3 487.2 L964.3 486.9 L965.3 486.6 L966.3 486.3 L967.3 486.0 L968.3 485.7 L969.3 485.4 L970.3 485.0 L971.3 484.7 L972.3 484.4 L973.3 484.0 L974.3 483.7 L975.3 483.3 L976.3 482.9 L977.3 482.6 L978.3 482.2 L979.3 481.8 L980.3 481.4 L981.3 481.0 L982.3 480.6 L983.3 480.2 L984.3 479.8 L985.3 479.3 L986.3 478.9 L987.3 478.5 L988.3 478.0 L989.3 477.6 L990.3 477.1 L991.3 476.7 L992.3 476.2 L993.3 475.7 L994.3 475.3 L995.3 474.8 L996.3 474.3 L997.3 473.8 L998.3 473.3 L999.3 472.8 L1000.3 472.3 L1001.3 471.8 L1002.3 471.2 L1003.3 470.7 L1004.3 470.2 L1005.3 469.6 L1006.3 469.1 L1007.3 468.5 L1008.3 468.0 L1009.3 467.4 L1010.3 466.8 L1011.3 466.2 L1012.3 465.7 L1013.3 465.1 L1014.3 464.5 L1015.3 463.9 L1016.3 463.3 L1017.3 462.6 L1018.3 462.0 L1019.3 461.4 L1020.3 460.8 L1021.3 460.1 L1022.3 459.5 L1023.3 458.8 L1024.3 458.2 L1025.3 457.5 L1026.3 456.8 L1027.3 456.2 L1028.3 455.5 L1029.3 454.8 L1030.3 454.1 L1031.3 453.4 L1032.3 452.7 L1033.3 452.0 L1034.3 451.3 L1035.3 450.6 L1036.3 449.8 L1037.3 449.1 L1038.3 448.4 L1039.3 447.6 L1040.3 446.9 L1041.3 446.1 L1042.3 445.4 L1043.3 444.6 L1044.3 443.8 L1045.3 443.0 L1046.3 442.3 L1047.3 441.5 L1048.3 440.7 L1049.3 439.9 L1050.3 439.1 L1051.3 438.3 L1052.3 437.4 L1053.3 436.6 L1054.3 435.8 L1055.3 434.9 L1056.3 434.1 L1057.3 433.3 L1058.3 432.4 L1059.3 431.5 L1060.3 430.7 L1061.3 429.8 L1062.3 428.9 L1063.3 428.0 L1064.3 427.2 L1065.3 426.3 L1066.3 425.4 L1067.3 424.5 L1068.3 423.5 L1069.3 422.6 L1070.3 421.7 L1071.3 420.8 L1072.3 419.8 L1073.3 418.9 L1074.3 418.0 L1075.3 417.0 L1076.3 416.1 L1077.3 415.1 L1078.3 414.1 L1079.3 413.2 L1080.3 412.2 L1081.3 411.2 L1082.3 410.3 L1083.3 409.3 L1084.3 408.3 L1085.3 407.3 L1086.3 406.4 L1087.3 405.4 L1088.3 404.4 L1089.3 403.5 L1090.3 402.5 L1091.3 401.5 L1092.3 400.6 L1093.3 399.6 L1094.3 398.7 L1095.3 397.8 L1096.3 396.8 L1097.3 395.9 L1098.3 395.0 L1099.3 394.1 L1100.3 393.2 L1101.3 392.3 L1102.3 391.4 L1103.3 390.6 L1104.3 389.7 L1105.3 388.8 L1106.3 387.9 L1107.3 387.0 L1108.3 386.1 L1109.3 385.1 L1110.3 384.2 L1111.3 383.2 L1112.3 382.1 L1113.3 381.1 L1114.3 380.0 L1115.3 378.9 L1116.3 377.8 L1117.3 376.7 L1118.3 375.6 L1119.3 374.5 L1120.3 373.3 L1121.3 372.2 L1122.3 371.0 L1123.3 369.9 L1124.3 368.7 L1125.3 367.6 L1126.3 366.5 L1127.3 365.4 L1128.3 364.2 L1129.3 363.1 L1130.3 362.0 L1131.3 360.9 L1132.3 359.8 L1133.3 358.7 L1134.3 357.6 L1135.3 356.5 L1136.3 355.4 L1137.3 354.3 L1138.3 353.2 L1139.3 352.1 L1140.3 350.9 L1141.3 349.8 L1142.3 348.7 L1143.3 347.6 L1144.3 346.5 L1145.3 345.4 L1146.3 344.3 L1147.3 343.1 L1148.3 342.0 L1149.3 340.9 L1150.3 339.8 L1151.3 338.6 L1152.3 337.5 L1153.3 336.4 L1154.3 335.3 L1155.3 334.1 L1156.3 333.0 L1157.3 331.9 L1158.3 330.7 L1159.3 329.6 L1160.3 328.5 L1161.3 327.3 L1162.3 326.2 L1163.3 325.1 L1164.3 323.9 L1165.3 322.8 L1166.3 321.7 L1167.3 320.5 L1168.3 319.4 L1169.3 318.2 L1170.3 317.1 L1171.3 315.9 L1172.3 314.8 L1173.3 313.6 L1174.3 312.5 L1175.3 311.3 L1176.3 310.2 L1177.3 309.0 L1178.3 307.9 L1179.3 306.7 L1180.3 305.6 L1181.3 304.4 L1182.3 303.3 L1183.3 302.1 L1184.3 300.9 L1185.3 299.8 L1186.3 298.6 L1187.3 297.5 L1188.3 296.3 L1189.3 295.1 L1190.3 294.0 L1191.3 292.8 L1192.3 291.6 L1193.3 290.5 L1194.3 289.3 L1195.3 288.1 L1196.3 286.9 L1197.3 285.8 L1198.3 284.6 L1199.3 283.4 L1200.3 282.2 L1201.3 281.1 L1202.3 279.9 L1203.3 278.7 L1204.3 277.5 L1205.3 276.3 L1206.3 275.1 L1207.3 274.0 L1208.3 272.8 L1209.3 271.6 L1210.3 270.4 L1211.3 269.2 L1212.3 268.0 L1213.3 266.8 L1214.3 265.6 L1215.3 264.4 L1216.3 263.2 L1217.3 262.0 L1218.3 260.8 L1219.3 259.6 L1220.3 258.4 L1221.3 257.2 L1222.3 256.0 L1223.3 254.8 L1224.3 253.6 L1225.3 252.4 L1226.3 251.2 L1227.3 250.0 L1228.3 248.7 L1229.3 247.5 L1230.3 246.3 L1231.3 245.1 L1232.3 243.9 L1233.3 242.7 L1234.3 241.4 L1235.3 240.2 L1236.3 239.0 L1237.3 237.8 L1238.3 236.6 L1239.3 235.3 L1240.3 234.1 L1241.3 232.9 L1242.3 231.6 L1243.3 230.4 L1244.3 229.2 L1245.3 227.9 L1246.3 226.7 L1247.3 225.5 L1248.3 224.2 L1249.3 223.0 L1250.3 221.8 L1251.3 220.5 L1252.3 219.3 L1253.3 218.0 L1254.3 216.8 L1255.3 215.5 L1256.3 214.3 L1257.3 213.0 L1258.3 211.8 L1259.3 210.5 L1260.3 209.3 L1261.3 208.0 L1262.3 206.8 L1263.3 205.5 L1264.3 204.2 L1265.3 203.0 L1266.3 201.7 L1267.3 200.5 L1268.3 199.2 L1269.3 197.9 L1270.3 196.7 L1271.3 195.4 L1272.3 194.1 L1273.3 192.9 L1274.3 191.6 L1275.3 190.3 L1276.3 189.0 L1277.3 187.8 L1278.3 186.5 L1279.3 185.2 L1280.3 183.9 L1281.3 182.7 L1282.3 181.4 L1283.3 180.1 L1284.3 178.8 L1285.3 177.6 L1286.3 176.3 L1287.3 175.0 L1288.3 173.7 L1289.3 172.4 L1290.3 171.1 L1291.3 169.9 L1292.3 168.6 L1293.3 167.3 L1294.3 166.0 L1295.3 164.7 L1296.3 163.4 L1297.3 162.1 L1298.3 160.8 L1299.3 159.5 L1300.3 158.3 L1301.3 157.0 L1302.3 155.7 L1303.3 154.4 L1304.3 153.1 L1305.3 151.8 L1306.3 150.5 L1307.3 149.2 L1308.3 147.9 L1309.3 146.6 L1310.3 145.3 L1311.3 144.0 L1312.3 142.7 L1313.3 141.4 L1314.3 140.2 L1315.3 138.9 L1316.3 137.6 L1317.3 136.3 L1318.3 135.0 L1319.3 133.7 L1320.3 132.4 L1321.3 131.1 L1322.3 129.8 L1323.3 128.5 L1324.3 127.2 L1325.3 125.9 L1326.3 124.6 L1327.3 123.3 L1328.3 122.0 L1329.3 120.7 L1330.3 119.4 L1331.3 118.1 L1332.3 116.8 L1333.3 115.5 L1334.3 114.2 L1335.3 113.0 L1336.3 111.7 L1337.3 110.4 L1338.3 109.1 L1339.3 107.8 L1340.3 106.5 L1341.3 105.2 L1342.3 103.9 L1343.3 102.6 L1344.3 101.3 L1345.3 100.0 L1346.3 98.7 L1347.3 97.5 L1348.3 96.2 L1349.3 94.9 L1350.3 93.6 L1351.3 92.3 L1352.3 91.0 L1353.3 89.7 L1354.3 88.4 L1355.3 87.2 L1356.3 85.9 L1357.3 84.6 L1358.3 83.3 L1359.3 82.0 L1360.3 80.8 L1361.3 79.5 L1362.3 78.2 L1363.3 76.9 L1364.3 75.6 L1365.3 74.4 L1366.3 73.1 L1367.3 71.8 L1368.3 70.5 L1369.3 69.3 L1370.3 68.0 L1371.3 66.7 L1372.3 65.5 L1373.3 64.2 L1374.3 62.9 L1375.3 61.7 L1376.3 60.4 L1377.3 59.1 L1378.3 57.9 L1379.3 56.6 L1380.3 55.3 L1381.3 54.1 L1382.3 52.8 L1383.3 51.6 L1384.3 50.3 L1385.3 49.1 L1386.0 48.2" stroke="#7b7fdb" stroke-width="8"/>
<path d="M907.9 493.6 L908.3 493.6 L909.3 493.6 L910.3 493.6 L911.3 493.6 L912.3 493.6 L913.3 493.6 L914.3 493.5 L915.3 493.5 L916.3 493.5 L917.3 493.4 L918.3 493.4 L919.3 493.4 L920.3 493.3 L921.3 493.2 L922.3 493.2 L923.3 493.1 L924.1 493.0 M948.8 489.0 L949.3 488.9 L950.3 488.7 L951.3 488.4 L952.3 488.2 L953.3 487.9 L954.3 487.7 L955.3 487.4 L956.3 487.1 L957.3 486.9 L958.3 486.6 L959.3 486.3 L960.3 486.0 L961.3 485.7 L962.3 485.4 L963.2 485.1 M996.8 471.5 L997.3 471.3 L998.3 470.8 L999.3 470.3 L1000.3 469.8 L1001.3 469.3 L1002.3 468.7 L1003.3 468.2 L1004.3 467.7 L1005.3 467.2 L1006.3 466.6 L1007.3 466.1 L1008.3 465.5 L1009.3 465.0 L1010.3 464.4 L1011.3 463.9 L1012.3 463.3 L1013.3 462.8 L1014.2 462.3 M1042.4 444.4 L1043.3 443.7 L1044.3 443.0 L1045.3 442.3 L1046.3 441.6 L1047.3 440.9 L1048.3 440.2 L1049.3 439.5 L1050.3 438.7 L1051.3 438.0 L1052.3 437.3 L1053.3 436.5 L1054.3 435.8 L1055.3 435.0 L1056.3 434.3 L1056.5 434.2 M1090.5 406.6 L1091.3 405.9 L1092.3 405.0 L1093.3 404.1 L1094.3 403.2 L1095.3 402.3 L1096.3 401.5 L1097.3 400.6 L1098.3 399.7 L1099.3 398.8 L1100.3 397.9 L1101.3 397.0 L1102.3 396.1 L1103.3 395.2 L1104.3 394.3 L1105.3 393.3 L1106.3 392.4 L1107.3 391.5 L1107.9 391.0 M1134.6 365.4 L1135.3 364.7 L1136.3 363.7 L1137.3 362.7 L1138.3 361.7 L1139.3 360.7 L1140.3 359.7 L1141.3 358.7 L1142.3 357.6 L1143.3 356.6 L1144.3 355.6 L1145.3 354.6 L1146.3 353.6 L1147.3 352.6 L1148.3 351.5 L1149.3 350.5 L1150.0 349.8 M1174.0 324.6 L1174.3 324.3 L1175.3 323.2 L1176.3 322.1 L1177.3 321.0 L1178.3 320.0 L1179.3 318.9 L1180.3 317.8 L1181.3 316.7 L1182.3 315.6 L1183.3 314.5 L1184.3 313.5 L1185.3 312.4 L1186.3 311.3 L1187.3 310.2 L1188.3 309.1 L1189.1 308.2 M1221.9 271.6 L1222.3 271.2 L1223.3 270.0 L1224.3 268.9 L1225.3 267.7 L1226.3 266.6 L1227.3 265.5 L1228.3 264.3 L1229.3 263.2 L1230.3 262.1 L1231.3 260.9 L1232.3 259.8 L1233.3 258.6 L1234.3 257.5 L1235.3 256.3 L1236.3 255.2 L1237.3 254.1 L1238.1 253.1 M1264.3 222.9 L1264.3 222.9 L1265.3 221.8 L1266.3 220.6 L1267.3 219.5 L1268.3 218.3 L1269.3 217.1 L1270.3 216.0 L1271.3 214.8 L1272.3 213.7 L1273.3 212.5 L1274.3 211.3 L1275.3 210.2 L1276.3 209.0 L1277.3 207.9 L1278.3 206.7 L1279.2 205.7 M1303.6 177.4 L1304.3 176.6 L1305.3 175.5 L1306.3 174.3 L1307.3 173.2 L1308.3 172.0 L1309.3 170.9 L1310.3 169.7 L1311.3 168.6 L1312.3 167.4 L1313.3 166.3 L1314.3 165.1 L1315.3 164.0 L1316.3 162.8 L1317.3 161.7 L1318.3 160.5 L1318.9 159.8 M1344.1 131.2 L1344.3 131.0 L1345.3 129.8 L1346.3 128.7 L1347.3 127.6 L1348.3 126.5 L1349.3 125.4 L1350.3 124.2 L1351.3 123.1 L1352.3 122.0 L1353.3 120.9 L1354.3 119.8 L1355.3 118.7 L1356.3 117.6 L1357.3 116.4 L1358.3 115.3 L1358.8 114.8" stroke="#8cc20a" stroke-width="5.8" stroke-linecap="round"/>
<path d="M908.4 493.4 L909.3 493.3 L910.3 493.3 L911.3 493.3 L912.3 493.2 L913.3 493.2 L914.3 493.1 L915.3 493.0 L916.3 493.0 L917.3 492.9 L918.3 492.8 L919.3 492.7 L920.3 492.6 L921.3 492.5 L922.3 492.4 L923.3 492.3 L924.3 492.2 L925.3 492.1 L925.3 492.1 M942.8 489.0 L943.3 488.9 L944.3 488.6 L945.2 488.4 M962.6 483.5 L963.3 483.2 L964.3 482.9 L965.3 482.6 L966.3 482.2 L967.3 481.9 L968.3 481.5 L969.3 481.1 L970.3 480.8 L971.3 480.4 L972.3 480.0 L973.3 479.6 L974.3 479.2 L975.3 478.9 L976.3 478.5 L977.3 478.1 L978.3 477.7 L979.3 477.2 L980.3 476.8 L981.3 476.4 L982.3 476.0 L983.3 475.6 L983.5 475.4 M1001.5 466.9 L1002.3 466.5 L1003.3 466.0 L1003.7 465.8 M1021.9 455.5 L1022.3 455.2 L1023.3 454.6 L1024.3 454.0 L1025.3 453.4 L1026.3 452.8 L1027.3 452.2 L1028.3 451.5 L1029.3 450.9 L1030.3 450.3 L1031.3 449.6 L1032.3 449.0 L1033.3 448.3 L1034.3 447.7 L1035.3 447.0 L1036.3 446.4 L1037.3 445.7 L1038.3 445.0 L1039.3 444.4 L1040.3 443.7 L1041.3 443.0 L1042.3 442.3 L1042.5 442.2 M1059.8 429.8 L1060.3 429.5 L1061.3 428.7 L1061.8 428.4 M1082.2 412.4 L1082.3 412.2 L1083.3 411.4 L1084.3 410.6 L1085.3 409.8 L1086.3 409.0 L1087.3 408.1 L1088.3 407.3 L1089.3 406.5 L1090.3 405.6 L1091.3 404.8 L1092.3 403.9 L1093.3 403.1 L1094.3 402.2 L1095.3 401.4 L1096.3 400.5 L1097.3 399.7 L1098.3 398.8 L1099.3 397.9 L1100.3 397.1 L1100.9 396.5 M1118.9 380.4 L1119.3 380.1 L1120.3 379.2 L1120.7 378.8 M1138.2 362.3 L1138.3 362.3 L1139.3 361.3 L1140.3 360.3 L1141.3 359.4 L1142.3 358.4 L1143.3 357.4 L1144.3 356.5 L1145.3 355.5 L1146.3 354.5 L1147.3 353.5 L1148.3 352.6 L1149.3 351.6 L1150.3 350.6 L1151.3 349.6 L1152.3 348.6 L1153.3 347.7 L1154.3 346.7 L1155.3 345.7 L1156.3 344.7 L1157.3 343.7 L1158.3 342.7 L1159.3 341.7 L1160.3 340.7 L1160.4 340.6 M1176.6 324.2 L1177.3 323.5 L1178.2 322.5 M1194.3 305.8 L1195.3 304.8 L1196.3 303.7 L1197.3 302.7 L1198.3 301.6 L1199.3 300.5 L1200.3 299.5 L1201.3 298.4 L1202.3 297.4 L1203.3 296.3 L1204.3 295.3 L1205.3 294.2 L1206.3 293.1 L1207.3 292.1 L1208.3 291.0 L1209.3 289.9 L1210.3 288.9 L1211.3 287.8 L1212.3 286.7 L1213.3 285.7 L1214.3 284.6 L1215.1 283.8 M1231.7 265.9 L1232.3 265.2 L1233.3 264.1 L1233.3 264.1 M1250.6 245.3 L1251.3 244.5 L1252.3 243.4 L1253.3 242.3 L1254.3 241.2 L1255.3 240.1 L1256.3 239.1 L1257.3 238.0 L1258.3 236.9 L1259.3 235.8 L1260.3 234.7 L1261.3 233.6 L1262.3 232.5 L1263.3 231.4 L1264.3 230.3 L1265.3 229.2 L1266.3 228.1 L1267.3 227.0 L1268.3 225.9 L1269.3 224.8 L1269.3 224.8 M1286.1 206.4 L1286.3 206.2 L1287.3 205.1 L1287.7 204.6 M1303.9 186.9 L1304.3 186.5 L1305.3 185.4 L1306.3 184.3 L1307.3 183.2 L1308.3 182.1 L1309.3 181.0 L1310.3 180.0 L1311.3 178.9 L1312.3 177.8 L1313.3 176.7 L1314.3 175.6 L1315.3 174.5 L1316.3 173.4 L1317.3 172.4 L1318.3 171.3 L1319.3 170.2 L1320.3 169.1 L1321.3 168.0 L1322.3 167.0 L1323.3 165.9 L1323.6 165.6 M1339.7 148.3 L1340.3 147.7 L1341.3 146.6 L1341.3 146.6 M1358.1 128.9 L1358.3 128.7 L1359.3 127.6 L1360.3 126.6 L1361.3 125.6 L1362.3 124.5 L1363.3 123.5 L1364.3 122.5 L1365.3 121.4 L1366.3 120.4 L1367.3 119.4 L1368.3 118.3 L1369.3 117.3 L1370.3 116.3 L1371.3 115.2 L1372.3 114.2 L1373.3 113.2 L1374.3 112.2 L1375.3 111.1 L1376.3 110.1 L1377.3 109.1 L1378.3 108.1 L1379.3 107.1 L1380.3 106.1 L1381.3 105.1 L1382.3 104.0 L1383.3 103.0 L1384.0 102.3" stroke="#eba262" stroke-width="5.6" stroke-linecap="round"/>
<path d="M903.3 493.4 L904.3 493.0 L905.3 492.6 L906.3 492.1 L907.3 491.7 L908.3 491.3 L909.3 490.8 L910.3 490.4 L911.3 489.9 L912.3 489.5 L913.3 489.0 L914.3 488.6 L915.3 488.1 L916.3 487.6 L917.3 487.2 L918.3 486.7 L919.3 486.2 L920.3 485.8 L921.3 485.3 L922.3 484.8 L923.3 484.3 L924.3 483.8 L925.3 483.3 L926.3 482.8 L927.3 482.3 L928.3 481.8 L929.3 481.3 L930.3 480.8 L931.3 480.3 L932.3 479.8 L933.3 479.3 L934.3 478.8 L935.3 478.3 L936.3 477.8 L937.3 477.2 L938.3 476.7 L939.3 476.2 L940.3 475.7 L941.3 475.1 L942.3 474.6 L943.3 474.0 L944.3 473.5 L945.3 473.0 L946.3 472.4 L947.3 471.9 L948.3 471.3 L949.3 470.8 L950.3 470.2 L951.3 469.7 L952.3 469.1 L953.3 468.5 L954.3 468.0 L955.3 467.4 L956.3 466.8 L957.3 466.3 L958.3 465.7 L959.3 465.1 L960.3 464.5 L961.3 463.9 L962.3 463.4 L963.3 462.8 L964.3 462.2 L965.3 461.6 L966.3 461.0 L967.3 460.4 L968.3 459.8 L969.3 459.2 L970.3 458.6 L971.3 458.0 L972.3 457.4 L973.3 456.8 L974.3 456.2 L975.3 455.6 L976.3 455.0 L977.3 454.4 L978.3 453.7 L979.3 453.1 L980.3 452.5 L981.3 451.9 L982.3 451.3 L983.3 450.6 L984.3 450.0 L985.3 449.4 L986.3 448.7 L987.3 448.1 L988.3 447.5 L989.3 446.8 L990.3 446.2 L991.3 445.5 L992.3 444.9 L993.3 444.2 L994.3 443.6 L995.3 443.0 L996.3 442.3 L997.3 441.6 L998.3 441.0 L999.3 440.3 L1000.3 439.7 L1001.3 439.0 L1002.3 438.4 L1003.3 437.7 L1004.3 437.0 L1005.3 436.4 L1006.3 435.7 L1007.3 435.0 L1008.3 434.4 L1009.3 433.7 L1010.3 433.0 L1011.3 432.3 L1012.3 431.7 L1013.3 431.0 L1014.3 430.3 L1015.3 429.6 L1016.3 428.9 L1017.3 428.3 L1018.3 427.6 L1019.3 426.9 L1020.3 426.2 L1021.3 425.5 L1022.3 424.8 L1023.3 424.1 L1024.3 423.4 L1025.3 422.7 L1026.3 422.0 L1027.3 421.3 L1028.3 420.6 L1029.3 419.9 L1030.3 419.2 L1031.3 418.5 L1032.3 417.8 L1033.3 417.1 L1034.3 416.4 L1035.3 415.7 L1036.3 415.0 L1037.3 414.3 L1038.3 413.6 L1039.3 412.9 L1040.3 412.1 L1041.3 411.4 L1042.3 410.7 L1043.3 410.0 L1044.3 409.3 L1045.3 408.6 L1046.3 407.8 L1047.3 407.1 L1048.3 406.4 L1049.3 405.7 L1050.3 405.0 L1051.3 404.2 L1052.3 403.5 L1053.3 402.8 L1054.3 402.1 L1055.3 401.3 L1056.3 400.6 L1057.3 399.9 L1058.3 399.1 L1059.3 398.4 L1060.3 397.7 L1061.3 396.9 L1062.3 396.2 L1063.3 395.5 L1064.3 394.7 L1065.3 394.0 L1066.3 393.3 L1067.3 392.5 L1068.3 391.8 L1069.3 391.0 L1070.3 390.3 L1071.3 389.6 L1072.3 388.8 L1073.3 388.1 L1074.3 387.3 L1075.3 386.6 L1076.3 385.9 L1077.3 385.1 L1078.3 384.4 L1079.3 383.6 L1080.3 382.9 L1081.3 382.1 L1082.3 381.4 L1083.3 380.6 L1084.3 379.9 L1085.3 379.1 L1086.3 378.4 L1087.3 377.6 L1088.3 376.9 L1089.3 376.1 L1090.3 375.4 L1091.3 374.6 L1092.3 373.9 L1093.3 373.1 L1094.3 372.4 L1095.3 371.6 L1096.3 370.9 L1097.3 370.1 L1098.3 369.4 L1099.3 368.6 L1100.3 367.9 L1101.3 367.1 L1102.3 366.4 L1103.3 365.6 L1104.3 364.9 L1105.3 364.1 L1106.3 363.4 L1107.3 362.6 L1108.3 361.9 L1109.3 361.1 L1110.3 360.3 L1111.3 359.6 L1112.3 358.8 L1113.3 358.1 L1114.3 357.3 L1115.3 356.6 L1116.3 355.8 L1117.3 355.1 L1118.3 354.3 L1119.3 353.6 L1120.3 352.8 L1121.3 352.1 L1122.3 351.3 L1123.3 350.6 L1124.3 349.8 L1125.3 349.0 L1126.3 348.3 L1127.3 347.5 L1128.3 346.8 L1129.3 346.0 L1130.3 345.3 L1131.3 344.5 L1132.3 343.8 L1133.3 343.0 L1134.3 342.3 L1135.3 341.5 L1136.3 340.8 L1137.3 340.0 L1138.3 339.3 L1139.3 338.5 L1140.3 337.8 L1141.3 337.0 L1142.3 336.3 L1143.3 335.5 L1144.3 334.8 L1145.3 334.0 L1146.3 333.3 L1147.3 332.5 L1148.3 331.8 L1149.3 331.1 L1150.3 330.3 L1151.3 329.6 L1152.3 328.8 L1153.3 328.1 L1154.3 327.3 L1155.3 326.6 L1156.3 325.9 L1157.3 325.1 L1158.3 324.4 L1159.3 323.6 L1160.3 322.9 L1161.3 322.2 L1162.3 321.4 L1163.3 320.7 L1164.3 320.0 L1165.3 319.2 L1166.3 318.5 L1167.3 317.8 L1168.3 317.0 L1169.3 316.3 L1170.3 315.6 L1171.3 314.8 L1172.3 314.1 L1173.3 313.4 L1174.3 312.6 L1175.3 311.9 L1176.3 311.2 L1177.3 310.5 L1178.3 309.7 L1179.3 309.0 L1180.3 308.3 L1181.3 307.6 L1182.3 306.9 L1183.3 306.1 L1184.3 305.4 L1185.3 304.7 L1186.3 304.0 L1187.3 303.3 L1188.3 302.6 L1189.3 301.8 L1190.3 301.1 L1191.3 300.4 L1192.3 299.7 L1193.3 299.0 L1194.3 298.3 L1195.3 297.6 L1196.3 296.9 L1197.3 296.2 L1198.3 295.5 L1199.3 294.8 L1200.3 294.1 L1201.3 293.3 L1202.3 292.6 L1203.3 291.9 L1204.3 291.2 L1205.3 290.5 L1206.3 289.8 L1207.3 289.1 L1208.3 288.5 L1209.3 287.8 L1210.3 287.1 L1211.3 286.4 L1212.3 285.7 L1213.3 285.0 L1214.3 284.3 L1215.3 283.6 L1216.3 282.9 L1217.3 282.2 L1218.3 281.5 L1219.3 280.8 L1220.3 280.2 L1221.3 279.5 L1222.3 278.8 L1223.3 278.1 L1224.3 277.4 L1225.3 276.7 L1226.3 276.1 L1227.3 275.4 L1228.3 274.7 L1229.3 274.0 L1230.3 273.3 L1231.3 272.7 L1232.3 272.0 L1233.3 271.3 L1234.3 270.6 L1235.3 270.0 L1236.3 269.3 L1237.3 268.6 L1238.3 267.9 L1239.3 267.3 L1240.3 266.6 L1241.3 265.9 L1242.3 265.3 L1243.3 264.6 L1244.3 263.9 L1245.3 263.3 L1246.3 262.6 L1247.3 261.9 L1248.3 261.3 L1249.3 260.6 L1250.3 259.9 L1251.3 259.3 L1252.3 258.6 L1253.3 258.0 L1254.3 257.3 L1255.3 256.7 L1256.3 256.0 L1257.3 255.3 L1258.3 254.7 L1259.3 254.0 L1260.3 253.4 L1261.3 252.7 L1262.3 252.1 L1263.3 251.4 L1264.3 250.8 L1265.3 250.1 L1266.3 249.5 L1267.3 248.8 L1268.3 248.2 L1269.3 247.5 L1270.3 246.9 L1271.3 246.2 L1272.3 245.6 L1273.3 245.0 L1274.3 244.3 L1275.3 243.7 L1276.3 243.0 L1277.3 242.4 L1278.3 241.8 L1279.3 241.1 L1280.3 240.5 L1281.3 239.8 L1282.3 239.2 L1283.3 238.6 L1284.3 237.9 L1285.3 237.3 L1286.3 236.7 L1287.3 236.0 L1288.3 235.4 L1289.3 234.8 L1290.3 234.2 L1291.3 233.5 L1292.3 232.9 L1293.3 232.3 L1294.3 231.6 L1295.3 231.0 L1296.3 230.4 L1297.3 229.8 L1298.3 229.1 L1299.3 228.5 L1300.3 227.9 L1301.3 227.3 L1302.3 226.7 L1303.3 226.0 L1304.3 225.4 L1305.3 224.8 L1306.3 224.2 L1307.3 223.6 L1308.3 223.0 L1309.3 222.3 L1310.3 221.7 L1311.3 221.1 L1312.3 220.5 L1313.3 219.9 L1314.3 219.3 L1315.3 218.7 L1316.3 218.1 L1317.3 217.5 L1318.3 216.8 L1319.3 216.2 L1320.3 215.6 L1321.3 215.0 L1322.3 214.4 L1323.3 213.8 L1324.3 213.2 L1325.3 212.6 L1326.3 212.0 L1327.3 211.4 L1328.3 210.8 L1329.3 210.2 L1330.3 209.6 L1331.3 209.0 L1332.3 208.4 L1333.3 207.8 L1334.3 207.2 L1335.3 206.6 L1336.3 206.0 L1337.3 205.4 L1338.3 204.9 L1339.3 204.3 L1340.3 203.7 L1341.3 203.1 L1342.3 202.5 L1343.3 201.9 L1344.3 201.3 L1345.3 200.7 L1346.3 200.1 L1347.3 199.5 L1348.3 199.0 L1349.3 198.4 L1350.3 197.8 L1351.3 197.2 L1352.3 196.6 L1353.3 196.0 L1354.3 195.5 L1355.3 194.9 L1356.3 194.3 L1357.3 193.7 L1358.3 193.1 L1359.3 192.6 L1360.3 192.0 L1361.3 191.4 L1362.3 190.8 L1363.3 190.3 L1364.3 189.7 L1365.3 189.1 L1366.3 188.5 L1367.3 188.0 L1368.3 187.4 L1369.3 186.8 L1370.3 186.3 L1371.3 185.7 L1372.3 185.1 L1373.3 184.6 L1374.3 184.0 L1375.3 183.4 L1376.3 182.9 L1377.3 182.3 L1378.3 181.7 L1379.3 181.2 L1380.3 180.6 L1381.3 180.0 L1382.3 179.5 L1383.3 178.9 L1384.3 178.4 L1385.3 177.8 L1386.0 177.4" stroke="#818181" stroke-width="5.6"/>
<path d="M903.5 492.4 L904.5 491.5 L905.5 490.7 L906.5 489.8 L907.5 488.9 L908.5 488.0 L909.5 487.1 L910.5 486.3 L911.5 485.4 L912.5 484.5 L913.5 483.7 L914.5 482.8 L915.5 482.0 L916.5 481.1 L917.5 480.3 L918.5 479.4 L919.5 478.6 L920.5 477.7 L921.5 476.9 L922.5 476.1 L923.5 475.2 L924.5 474.4 L925.5 473.6 L926.5 472.8 L927.5 471.9 L928.5 471.1 L929.5 470.3 L930.5 469.5 L931.5 468.7 L932.5 467.9 L933.5 467.1 L934.5 466.3 L935.5 465.5 L936.5 464.7 L937.5 463.9 L938.5 463.1 L939.5 462.4 L940.5 461.6 L941.5 460.8 L942.5 460.0 L943.5 459.3 L944.5 458.5 L945.5 457.7 L946.5 457.0 L947.5 456.2 L948.5 455.4 L949.5 454.7 L950.5 453.9 L951.5 453.2 L952.5 452.4 L953.5 451.7 L954.5 450.9 L955.5 450.2 L956.5 449.5 L957.5 448.7 L958.5 448.0 L959.5 447.3 L960.5 446.6 L961.5 445.8 L962.5 445.1 L963.5 444.4 L964.5 443.7 L965.5 443.0 L966.5 442.2 L967.5 441.5 L968.5 440.8 L969.5 440.1 L970.5 439.4 L971.5 438.7 L972.5 438.0 L973.5 437.3 L974.5 436.7 L975.5 436.0 L976.5 435.3 L977.5 434.6 L978.5 433.9 L979.5 433.2 L980.5 432.6 L981.5 431.9 L982.5 431.2 L983.5 430.5 L984.5 429.9 L985.5 429.2 L986.5 428.5 L987.5 427.9 L988.5 427.2 L989.5 426.6 L990.5 425.9 L991.5 425.3 L992.5 424.6 L993.5 424.0 L994.5 423.3 L995.5 422.7 L996.5 422.0 L997.5 421.4 L998.5 420.7 L999.5 420.1 L1000.5 419.5 L1001.5 418.8 L1002.5 418.2 L1003.5 417.6 L1004.5 417.0 L1005.5 416.3 L1006.5 415.7 L1007.5 415.1 L1008.5 414.5 L1009.5 413.9 L1010.5 413.3 L1011.5 412.6 L1012.5 412.0 L1013.5 411.4 L1014.5 410.8 L1015.5 410.2 L1016.5 409.6 L1017.5 409.0 L1018.5 408.4 L1019.5 407.8 L1020.5 407.2 L1021.5 406.6 L1022.5 406.0 L1023.5 405.4 L1024.5 404.9 L1025.5 404.3 L1026.5 403.7 L1027.5 403.1 L1028.5 402.5 L1029.5 402.0 L1030.5 401.4 L1031.5 400.8 L1032.5 400.2 L1033.5 399.7 L1034.5 399.1 L1035.5 398.5 L1036.5 397.9 L1037.5 397.4 L1038.5 396.8 L1039.5 396.3 L1040.5 395.7 L1041.5 395.1 L1042.5 394.6 L1043.5 394.0 L1044.5 393.5 L1045.5 392.9 L1046.5 392.4 L1047.5 391.8 L1048.5 391.3 L1049.5 390.7 L1050.5 390.2 L1051.5 389.6 L1052.5 389.1 L1053.5 388.5 L1054.5 388.0 L1055.5 387.5 L1056.5 386.9 L1057.5 386.4 L1058.5 385.8 L1059.5 385.3 L1060.5 384.8 L1061.5 384.3 L1062.5 383.7 L1063.5 383.2 L1064.5 382.7 L1065.5 382.1 L1066.5 381.6 L1067.5 381.1 L1068.5 380.6 L1069.5 380.0 L1070.5 379.5 L1071.5 379.0 L1072.5 378.5 L1073.5 378.0 L1074.5 377.5 L1075.5 376.9 L1076.5 376.4 L1077.5 375.9 L1078.5 375.4 L1079.5 374.9 L1080.5 374.4 L1081.5 373.9 L1082.5 373.4 L1083.5 372.9 L1084.5 372.4 L1085.5 371.9 L1086.5 371.4 L1087.5 370.9 L1088.5 370.4 L1089.5 369.9 L1090.5 369.4 L1091.5 368.9 L1092.5 368.4 L1093.5 367.9 L1094.5 367.4 L1095.5 366.9 L1096.5 366.4 L1097.5 365.9 L1098.5 365.4 L1099.5 364.9 L1100.5 364.4 L1101.5 363.9 L1102.5 363.4 L1103.5 363.0 L1104.5 362.5 L1105.5 362.0 L1106.5 361.5 L1107.5 361.0 L1108.5 360.5 L1109.5 360.0 L1110.5 359.6 L1111.5 359.1 L1112.5 358.6 L1113.5 358.1 L1114.5 357.6 L1115.5 357.2 L1116.5 356.7 L1117.5 356.2 L1118.5 355.7 L1119.5 355.2 L1120.5 354.8 L1121.5 354.3 L1122.5 353.8 L1123.5 353.3 L1124.5 352.9 L1125.5 352.4 L1126.5 351.9 L1127.5 351.4 L1128.5 351.0 L1129.5 350.5 L1130.5 350.0 L1131.5 349.6 L1132.5 349.1 L1133.5 348.6 L1134.5 348.1 L1135.5 347.7 L1136.5 347.2 L1137.5 346.7 L1138.5 346.3 L1139.5 345.8 L1140.5 345.3 L1141.5 344.9 L1142.5 344.4 L1143.5 343.9 L1144.5 343.5 L1145.5 343.0 L1146.5 342.6 L1147.5 342.1 L1148.5 341.6 L1149.5 341.2 L1150.5 340.7 L1151.5 340.2 L1152.5 339.8 L1153.5 339.3 L1154.5 338.9 L1155.5 338.4 L1156.5 337.9 L1157.5 337.5 L1158.5 337.0 L1159.5 336.6 L1160.5 336.1 L1161.5 335.7 L1162.5 335.2 L1163.5 334.7 L1164.5 334.3 L1165.5 333.8 L1166.5 333.4 L1167.5 332.9 L1168.5 332.5 L1169.5 332.0 L1170.5 331.6 L1171.5 331.1 L1172.5 330.7 L1173.5 330.2 L1174.5 329.8 L1175.5 329.3 L1176.5 328.9 L1177.5 328.4 L1178.5 328.0 L1179.5 327.5 L1180.5 327.0 L1181.5 326.6 L1182.5 326.2 L1183.5 325.7 L1184.5 325.3 L1185.5 324.8 L1186.5 324.4 L1187.5 323.9 L1188.5 323.5 L1189.5 323.0 L1190.5 322.6 L1191.5 322.1 L1192.5 321.7 L1193.5 321.2 L1194.5 320.8 L1195.5 320.3 L1196.5 319.9 L1197.5 319.4 L1198.5 319.0 L1199.5 318.6 L1200.5 318.1 L1201.5 317.7 L1202.5 317.2 L1203.5 316.8 L1204.5 316.3 L1205.5 315.9 L1206.5 315.4 L1207.5 315.0 L1208.5 314.6 L1209.5 314.1 L1210.5 313.7 L1211.5 313.2 L1212.5 312.8 L1213.5 312.3 L1214.5 311.9 L1215.5 311.5 L1216.5 311.0 L1217.5 310.6 L1218.5 310.1 L1219.5 309.7 L1220.5 309.3 L1221.5 308.8 L1222.5 308.4 L1223.5 307.9 L1224.5 307.5 L1225.5 307.1 L1226.5 306.6 L1227.5 306.2 L1228.5 305.7 L1229.5 305.3 L1230.5 304.9 L1231.5 304.4 L1232.5 304.0 L1233.5 303.5 L1234.5 303.1 L1235.5 302.7 L1236.5 302.2 L1237.5 301.8 L1238.5 301.3 L1239.5 300.9 L1240.5 300.5 L1241.5 300.0 L1242.5 299.6 L1243.5 299.1 L1244.5 298.7 L1245.5 298.3 L1246.5 297.8 L1247.5 297.4 L1248.5 297.0 L1249.5 296.5 L1250.5 296.1 L1251.5 295.6 L1252.5 295.2 L1253.5 294.8 L1254.5 294.3 L1255.5 293.9 L1256.5 293.4 L1257.5 293.0 L1258.5 292.6 L1259.5 292.1 L1260.5 291.7 L1261.5 291.3 L1262.5 290.8 L1263.5 290.4 L1264.5 289.9 L1265.5 289.5 L1266.5 289.1 L1267.5 288.6 L1268.5 288.2 L1269.5 287.7 L1270.5 287.3 L1271.5 286.9 L1272.5 286.4 L1273.5 286.0 L1274.5 285.6 L1275.5 285.1 L1276.5 284.7 L1277.5 284.2 L1278.5 283.8 L1279.5 283.4 L1280.5 282.9 L1281.5 282.5 L1282.5 282.0 L1283.5 281.6 L1284.5 281.2 L1285.5 280.7 L1286.5 280.3 L1287.5 279.8 L1288.5 279.4 L1289.5 279.0 L1290.5 278.5 L1291.5 278.1 L1292.5 277.6 L1293.5 277.2 L1294.5 276.7 L1295.5 276.3 L1296.5 275.9 L1297.5 275.4 L1298.5 275.0 L1299.5 274.5 L1300.5 274.1 L1301.5 273.6 L1302.5 273.2 L1303.5 272.8 L1304.5 272.3 L1305.5 271.9 L1306.5 271.4 L1307.5 271.0 L1308.5 270.5 L1309.5 270.1 L1310.5 269.6 L1311.5 269.2 L1312.5 268.8 L1313.5 268.3 L1314.5 267.9 L1315.5 267.4 L1316.5 267.0 L1317.5 266.5 L1318.5 266.1 L1319.5 265.6 L1320.5 265.2 L1321.5 264.7 L1322.5 264.3 L1323.5 263.8 L1324.5 263.4 L1325.5 262.9 L1326.5 262.5 L1327.5 262.0 L1328.5 261.6 L1329.5 261.1 L1330.5 260.7 L1331.5 260.2 L1332.5 259.8 L1333.5 259.3 L1334.5 258.9 L1335.5 258.4 L1336.5 258.0 L1337.5 257.5 L1338.5 257.1 L1339.5 256.6 L1340.5 256.2 L1341.5 255.7 L1342.5 255.3 L1343.5 254.8 L1344.5 254.3 L1345.5 253.9 L1346.5 253.4 L1347.5 253.0 L1348.5 252.5 L1349.5 252.1 L1350.5 251.6 L1351.5 251.1 L1352.5 250.7 L1353.5 250.2 L1354.5 249.8 L1355.5 249.3 L1356.5 248.8 L1357.5 248.4 L1358.5 247.9 L1359.5 247.5 L1360.5 247.0 L1361.5 246.5 L1362.5 246.1 L1363.5 245.6 L1364.5 245.1 L1365.5 244.7 L1366.5 244.2 L1367.5 243.8 L1368.5 243.3 L1369.5 242.8 L1370.5 242.4 L1371.5 241.9 L1372.5 241.4 L1373.5 240.9 L1374.5 240.5 L1375.5 240.0 L1376.5 239.5 L1377.5 239.1 L1378.5 238.6 L1379.5 238.1 L1380.5 237.7 L1381.5 237.2 L1382.5 236.7 L1383.5 236.2 L1384.5 235.8 L1385.5 235.3 L1386.0 235.0" stroke="#000" stroke-width="4"/>
<g fill="#f00" stroke="none"><circle cx="903.0" cy="493.4" r="2.80"/><circle cx="912.8" cy="486.3" r="2.80"/><circle cx="922.6" cy="478.9" r="2.80"/><circle cx="932.3" cy="471.4" r="2.80"/><circle cx="942.1" cy="463.9" r="2.80"/><circle cx="951.8" cy="456.5" r="2.80"/><circle cx="961.6" cy="449.0" r="2.80"/><circle cx="971.3" cy="441.6" r="2.80"/><circle cx="981.1" cy="434.2" r="2.80"/><circle cx="990.8" cy="426.9" r="2.80"/><circle cx="1000.6" cy="419.8" r="2.80"/><circle cx="1010.3" cy="412.7" r="2.80"/><circle cx="1020.1" cy="405.8" r="2.80"/><circle cx="1029.9" cy="399.0" r="2.80"/><circle cx="1039.6" cy="392.4" r="2.80"/><circle cx="1049.4" cy="385.9" r="2.80"/><circle cx="1059.1" cy="379.5" r="2.80"/><circle cx="1068.9" cy="373.3" r="2.80"/><circle cx="1078.6" cy="367.1" r="2.80"/><circle cx="1088.4" cy="361.1" r="2.80"/><circle cx="1098.1" cy="355.1" r="2.80"/><circle cx="1107.9" cy="349.3" r="2.80"/><circle cx="1117.6" cy="343.6" r="2.80"/><circle cx="1127.4" cy="337.9" r="2.80"/><circle cx="1137.1" cy="332.4" r="2.80"/><circle cx="1146.9" cy="326.9" r="2.80"/><circle cx="1156.7" cy="321.5" r="2.80"/><circle cx="1166.4" cy="316.2" r="2.80"/><circle cx="1176.2" cy="310.9" r="2.80"/><circle cx="1185.9" cy="305.7" r="2.80"/><circle cx="1195.7" cy="300.6" r="2.80"/><circle cx="1205.4" cy="295.5" r="2.80"/><circle cx="1215.2" cy="290.5" r="2.80"/><circle cx="1224.9" cy="285.5" r="2.80"/><circle cx="1234.7" cy="280.5" r="2.80"/><circle cx="1244.4" cy="275.6" r="2.80"/><circle cx="1254.2" cy="270.7" r="2.80"/><circle cx="1263.9" cy="265.9" r="2.80"/><circle cx="1273.7" cy="261.0" r="2.80"/><circle cx="1283.5" cy="256.2" r="2.80"/><circle cx="1293.2" cy="251.4" r="2.80"/><circle cx="1303.0" cy="246.6" r="2.80"/><circle cx="1312.7" cy="241.8" r="2.80"/><circle cx="1322.5" cy="236.9" r="2.80"/><circle cx="1332.2" cy="232.1" r="2.80"/><circle cx="1342.0" cy="227.3" r="2.80"/><circle cx="1351.7" cy="222.4" r="2.80"/><circle cx="1361.5" cy="217.5" r="2.80"/><circle cx="1371.2" cy="212.6" r="2.80"/><circle cx="1381.0" cy="207.7" r="2.80"/></g>
</g>
<line x1="174.0" y1="26.2" x2="174.0" y2="522.7" class="ax"/>
<line x1="174.0" y1="503.7" x2="650.2" y2="503.7" class="ax"/>
<line x1="155.0" y1="492.3" x2="174.0" y2="492.3" class="tk"/>
<line x1="155.0" y1="375.8" x2="174.0" y2="375.8" class="tk"/>
<line x1="155.0" y1="259.3" x2="174.0" y2="259.3" class="tk"/>
<line x1="155.0" y1="142.7" x2="174.0" y2="142.7" class="tk"/>
<line x1="155.0" y1="26.2" x2="174.0" y2="26.2" class="tk"/>
<line x1="164.0" y1="469.0" x2="174.0" y2="469.0" class="tk"/>
<line x1="164.0" y1="445.7" x2="174.0" y2="445.7" class="tk"/>
<line x1="164.0" y1="422.4" x2="174.0" y2="422.4" class="tk"/>
<line x1="164.0" y1="399.1" x2="174.0" y2="399.1" class="tk"/>
<line x1="164.0" y1="352.5" x2="174.0" y2="352.5" class="tk"/>
<line x1="164.0" y1="329.2" x2="174.0" y2="329.2" class="tk"/>
<line x1="164.0" y1="305.9" x2="174.0" y2="305.9" class="tk"/>
<line x1="164.0" y1="282.6" x2="174.0" y2="282.6" class="tk"/>
<line x1="164.0" y1="236.0" x2="174.0" y2="236.0" class="tk"/>
<line x1="164.0" y1="212.7" x2="174.0" y2="212.7" class="tk"/>
<line x1="164.0" y1="189.3" x2="174.0" y2="189.3" class="tk"/>
<line x1="164.0" y1="166.0" x2="174.0" y2="166.0" class="tk"/>
<line x1="164.0" y1="119.4" x2="174.0" y2="119.4" class="tk"/>
<line x1="164.0" y1="96.1" x2="174.0" y2="96.1" class="tk"/>
<line x1="164.0" y1="72.8" x2="174.0" y2="72.8" class="tk"/>
<line x1="164.0" y1="49.5" x2="174.0" y2="49.5" class="tk"/>
<line x1="174.0" y1="503.7" x2="174.0" y2="521.7" class="tk"/>
<line x1="293.0" y1="503.7" x2="293.0" y2="521.7" class="tk"/>
<line x1="412.1" y1="503.7" x2="412.1" y2="521.7" class="tk"/>
<line x1="531.1" y1="503.7" x2="531.1" y2="521.7" class="tk"/>
<line x1="650.2" y1="503.7" x2="650.2" y2="521.7" class="tk"/>
<line x1="197.8" y1="503.7" x2="197.8" y2="512.7" class="tk"/>
<line x1="221.6" y1="503.7" x2="221.6" y2="512.7" class="tk"/>
<line x1="245.4" y1="503.7" x2="245.4" y2="512.7" class="tk"/>
<line x1="269.2" y1="503.7" x2="269.2" y2="512.7" class="tk"/>
<line x1="316.9" y1="503.7" x2="316.9" y2="512.7" class="tk"/>
<line x1="340.7" y1="503.7" x2="340.7" y2="512.7" class="tk"/>
<line x1="364.5" y1="503.7" x2="364.5" y2="512.7" class="tk"/>
<line x1="388.3" y1="503.7" x2="388.3" y2="512.7" class="tk"/>
<line x1="435.9" y1="503.7" x2="435.9" y2="512.7" class="tk"/>
<line x1="459.7" y1="503.7" x2="459.7" y2="512.7" class="tk"/>
<line x1="483.5" y1="503.7" x2="483.5" y2="512.7" class="tk"/>
<line x1="507.3" y1="503.7" x2="507.3" y2="512.7" class="tk"/>
<line x1="555.0" y1="503.7" x2="555.0" y2="512.7" class="tk"/>
<line x1="578.8" y1="503.7" x2="578.8" y2="512.7" class="tk"/>
<line x1="602.6" y1="503.7" x2="602.6" y2="512.7" class="tk"/>
<line x1="626.4" y1="503.7" x2="626.4" y2="512.7" class="tk"/>
<line x1="903.3" y1="26.4" x2="903.3" y2="522.7" class="ax"/>
<line x1="903.3" y1="503.7" x2="1379.5" y2="503.7" class="ax"/>
<line x1="884.3" y1="493.6" x2="903.3" y2="493.6" class="tk"/>
<line x1="884.3" y1="363.8" x2="903.3" y2="363.8" class="tk"/>
<line x1="884.3" y1="234.1" x2="903.3" y2="234.1" class="tk"/>
<line x1="884.3" y1="104.3" x2="903.3" y2="104.3" class="tk"/>
<line x1="893.3" y1="467.6" x2="903.3" y2="467.6" class="tk"/>
<line x1="893.3" y1="441.7" x2="903.3" y2="441.7" class="tk"/>
<line x1="893.3" y1="415.7" x2="903.3" y2="415.7" class="tk"/>
<line x1="893.3" y1="389.8" x2="903.3" y2="389.8" class="tk"/>
<line x1="893.3" y1="337.9" x2="903.3" y2="337.9" class="tk"/>
<line x1="893.3" y1="311.9" x2="903.3" y2="311.9" class="tk"/>
<line x1="893.3" y1="286.0" x2="903.3" y2="286.0" class="tk"/>
<line x1="893.3" y1="260.0" x2="903.3" y2="260.0" class="tk"/>
<line x1="893.3" y1="208.1" x2="903.3" y2="208.1" class="tk"/>
<line x1="893.3" y1="182.1" x2="903.3" y2="182.1" class="tk"/>
<line x1="893.3" y1="156.2" x2="903.3" y2="156.2" class="tk"/>
<line x1="893.3" y1="130.2" x2="903.3" y2="130.2" class="tk"/>
<line x1="893.3" y1="78.3" x2="903.3" y2="78.3" class="tk"/>
<line x1="893.3" y1="52.4" x2="903.3" y2="52.4" class="tk"/>
<line x1="893.3" y1="26.4" x2="903.3" y2="26.4" class="tk"/>
<line x1="903.3" y1="503.7" x2="903.3" y2="521.7" class="tk"/>
<line x1="1022.3" y1="503.7" x2="1022.3" y2="521.7" class="tk"/>
<line x1="1141.4" y1="503.7" x2="1141.4" y2="521.7" class="tk"/>
<line x1="1260.4" y1="503.7" x2="1260.4" y2="521.7" class="tk"/>
<line x1="1379.5" y1="503.7" x2="1379.5" y2="521.7" class="tk"/>
<line x1="927.1" y1="503.7" x2="927.1" y2="512.7" class="tk"/>
<line x1="950.9" y1="503.7" x2="950.9" y2="512.7" class="tk"/>
<line x1="974.7" y1="503.7" x2="974.7" y2="512.7" class="tk"/>
<line x1="998.5" y1="503.7" x2="998.5" y2="512.7" class="tk"/>
<line x1="1046.2" y1="503.7" x2="1046.2" y2="512.7" class="tk"/>
<line x1="1070.0" y1="503.7" x2="1070.0" y2="512.7" class="tk"/>
<line x1="1093.8" y1="503.7" x2="1093.8" y2="512.7" class="tk"/>
<line x1="1117.6" y1="503.7" x2="1117.6" y2="512.7" class="tk"/>
<line x1="1165.2" y1="503.7" x2="1165.2" y2="512.7" class="tk"/>
<line x1="1189.0" y1="503.7" x2="1189.0" y2="512.7" class="tk"/>
<line x1="1212.8" y1="503.7" x2="1212.8" y2="512.7" class="tk"/>
<line x1="1236.6" y1="503.7" x2="1236.6" y2="512.7" class="tk"/>
<line x1="1284.3" y1="503.7" x2="1284.3" y2="512.7" class="tk"/>
<line x1="1308.1" y1="503.7" x2="1308.1" y2="512.7" class="tk"/>
<line x1="1331.9" y1="503.7" x2="1331.9" y2="512.7" class="tk"/>
<line x1="1355.7" y1="503.7" x2="1355.7" y2="512.7" class="tk"/>
<text transform="translate(-0.50,45.67) scale(1.0000,1.0200)" font-size="50">(a)</text>
<text transform="translate(719.00,45.67) scale(1.0000,1.0200)" font-size="50">(b)</text>
<text transform="translate(84.51,504.10) scale(1,1.0400)" font-size="42" xml:space="preserve">0.0</text>
<text transform="translate(84.51,387.58) scale(1,1.0400)" font-size="42" xml:space="preserve">0. </text><path transform="translate(119.54,387.58) scale(42.000,43.680)" d="M0.372 0 L0.284 0 L0.284 -0.549 Q0.20 -0.48 0.110 -0.444 L0.110 -0.541 Q0.23 -0.59 0.313 -0.700 L0.372 -0.700 Z"/>
<text transform="translate(84.51,271.06) scale(1,1.0400)" font-size="42" xml:space="preserve">0.2</text>
<text transform="translate(84.51,154.54) scale(1,1.0400)" font-size="42" xml:space="preserve">0.3</text>
<text transform="translate(84.51,38.02) scale(1,1.0400)" font-size="42" xml:space="preserve">0.4</text>
<text transform="translate(813.71,505.40) scale(1,1.0400)" font-size="42" xml:space="preserve">0.0</text>
<text transform="translate(813.71,375.63) scale(1,1.0400)" font-size="42" xml:space="preserve">0.5</text>
<text transform="translate(813.71,245.85) scale(1,1.0400)" font-size="42" xml:space="preserve"> .0</text><path transform="translate(813.71,245.85) scale(42.000,43.680)" d="M0.372 0 L0.284 0 L0.284 -0.549 Q0.20 -0.48 0.110 -0.444 L0.110 -0.541 Q0.23 -0.59 0.313 -0.700 L0.372 -0.700 Z"/>
<text transform="translate(813.71,116.07) scale(1,1.0400)" font-size="42" xml:space="preserve"> .5</text><path transform="translate(813.71,116.07) scale(42.000,43.680)" d="M0.372 0 L0.284 0 L0.284 -0.549 Q0.20 -0.48 0.110 -0.444 L0.110 -0.541 Q0.23 -0.59 0.313 -0.700 L0.372 -0.700 Z"/>
<text transform="translate(160.75,569.60)" font-size="45.5" xml:space="preserve">0</text>
<text transform="translate(267.14,569.60)" font-size="45.5" xml:space="preserve">50</text>
<text transform="translate(373.54,569.60)" font-size="45.5" xml:space="preserve"> 00</text><path transform="translate(373.54,569.60) scale(45.500,45.500)" d="M0.372 0 L0.284 0 L0.284 -0.549 Q0.20 -0.48 0.110 -0.444 L0.110 -0.541 Q0.23 -0.59 0.313 -0.700 L0.372 -0.700 Z"/>
<text transform="translate(492.59,569.60)" font-size="45.5" xml:space="preserve"> 50</text><path transform="translate(492.59,569.60) scale(45.500,45.500)" d="M0.372 0 L0.284 0 L0.284 -0.549 Q0.20 -0.48 0.110 -0.444 L0.110 -0.541 Q0.23 -0.59 0.313 -0.700 L0.372 -0.700 Z"/>
<text transform="translate(611.64,569.60)" font-size="45.5" xml:space="preserve">200</text>
<text transform="translate(890.05,569.60)" font-size="45.5" xml:space="preserve">0</text>
<text transform="translate(996.44,569.60)" font-size="45.5" xml:space="preserve">50</text>
<text transform="translate(1102.84,569.60)" font-size="45.5" xml:space="preserve"> 00</text><path transform="translate(1102.84,569.60) scale(45.500,45.500)" d="M0.372 0 L0.284 0 L0.284 -0.549 Q0.20 -0.48 0.110 -0.444 L0.110 -0.541 Q0.23 -0.59 0.313 -0.700 L0.372 -0.700 Z"/>
<text transform="translate(1221.89,569.60)" font-size="45.5" xml:space="preserve"> 50</text><path transform="translate(1221.89,569.60) scale(45.500,45.500)" d="M0.372 0 L0.284 0 L0.284 -0.549 Q0.20 -0.48 0.110 -0.444 L0.110 -0.541 Q0.23 -0.59 0.313 -0.700 L0.372 -0.700 Z"/>
<text transform="translate(1340.94,569.60)" font-size="45.5" xml:space="preserve">200</text>
<text transform="translate(363.75,624.02) scale(1.0000,1.0330)" font-size="52.5">T[K]</text>
<text transform="translate(1093.85,624.02) scale(1.0000,1.0330)" font-size="52.5">T[K]</text>
<text transform="translate(185.70,184.48) scale(1.0000,1.0300)" font-size="43">I</text>
<text transform="translate(253.00,183.08) scale(1.0000,1.0300)" font-size="43">II</text>
<text transform="translate(385.10,183.08) scale(1.0000,1.0300)" font-size="43">III</text>
<text transform="translate(918.90,319.19) scale(1.0000,1.0300)" font-size="43">I</text>
<text transform="translate(980.90,320.19) scale(1.0000,1.0300)" font-size="43">II</text>
<text transform="translate(1087.90,320.19) scale(1.0000,1.0300)" font-size="43">III</text>
<text transform="translate(52.30,433.30) rotate(-90) scale(1.0000,1.0300)" font-size="52.5">S</text>
<text transform="translate(71.60,396.40) rotate(-90)" font-size="30.5" font-style="italic">e</text>
<text transform="translate(52.30,367.15) rotate(-90) scale(1.0000,1.0300)" font-size="52.5">[</text>
<text transform="translate(52.00,351.40) rotate(-90) scale(1.3200,1.0500)" font-size="46" font-style="italic" style='font-family:"Liberation Serif",serif'>μ</text>
<text transform="translate(52.30,315.25) rotate(-90) scale(1.0000,1.0300)" font-size="52.5">e</text>
<text transform="translate(52.30,283.85) rotate(-90) scale(1.0000,1.0300)" font-size="52.5">V</text>
<text transform="translate(52.30,247.00) rotate(-90) scale(1.0000,1.0300)" font-size="52.5">/</text>
<text transform="translate(52.30,221.25) rotate(-90) scale(1.0000,1.0300)" font-size="52.5">K</text>
<text transform="translate(52.30,185.10) rotate(-90) scale(1.0000,1.0300)" font-size="52.5">]</text>
<text transform="translate(773.80,428.85) rotate(-90) scale(1.0000,1.0300)" font-size="52.5" font-style="italic">n</text>
<text transform="translate(794.00,402.10) rotate(-90)" font-size="30.5">th</text>
<text transform="translate(773.80,376.35) rotate(-90) scale(1.0000,1.0300)" font-size="52.5">[</text>
<g transform="translate(773.80,361.47) rotate(-90)"><path transform="translate(0.00,0.00) scale(52.500,54.075)" d="M0.372 0 L0.284 0 L0.284 -0.549 Q0.20 -0.48 0.110 -0.444 L0.110 -0.541 Q0.23 -0.59 0.313 -0.700 L0.372 -0.700 Z"/></g>
<text transform="translate(773.80,331.20) rotate(-90) scale(1.0000,1.0300)" font-size="52.5">0</text>
<g transform="translate(744.8,303.36) rotate(-90)"><path transform="translate(0.00,0.00) scale(30.500,30.500)" d="M0.372 0 L0.284 0 L0.284 -0.549 Q0.20 -0.48 0.110 -0.444 L0.110 -0.541 Q0.23 -0.59 0.313 -0.700 L0.372 -0.700 Z"/><text x="16.96" font-size="30.5">2</text></g>
<text transform="translate(773.80,269.35) rotate(-90) scale(1.0000,1.0300)" font-size="52.5">cm</text>
<text transform="translate(744.80,200.05) rotate(-90)" font-size="30.5">-2</text>
<text transform="translate(773.80,171.60) rotate(-90) scale(1.0000,1.0300)" font-size="52.5">]</text>
<rect x="924.8" y="24.6" width="207.8" height="246" fill="#fff" stroke="#000" stroke-width="1.6"/>
<line x1="932" y1="39.9" x2="990.5" y2="39.9" stroke="#000" stroke-width="4" stroke-linecap="round"/>
<g fill="#f00"><circle cx="931.9" cy="81.0" r="2.8"/><circle cx="941.7" cy="81.0" r="2.8"/><circle cx="951.5" cy="81.0" r="2.8"/><circle cx="961.3" cy="81.0" r="2.8"/><circle cx="971.1" cy="81.0" r="2.8"/><circle cx="980.9" cy="81.0" r="2.8"/></g>
<line x1="931.8" y1="122.0" x2="990.2" y2="122.0" stroke="#818181" stroke-width="5.6" stroke-linecap="round"/>
<line x1="931.8" y1="163.1" x2="956" y2="163.1" stroke="#eba262" stroke-width="5.6" stroke-linecap="round"/>
<line x1="971.3" y1="163.1" x2="974.7" y2="163.1" stroke="#eba262" stroke-width="5.6" stroke-linecap="round"/>
<line x1="931.9" y1="204.1" x2="951.7" y2="204.1" stroke="#8cc20a" stroke-width="5.8" stroke-linecap="round"/>
<line x1="978.7" y1="204.1" x2="989.8" y2="204.1" stroke="#8cc20a" stroke-width="5.8" stroke-linecap="round"/>
<line x1="932.1" y1="245.2" x2="990.1" y2="245.2" stroke="#7b7fdb" stroke-width="8" stroke-linecap="round"/>
<text transform="translate(998.15,48.91) scale(1.0000,1.0450)" font-size="26">V</text>
<text transform="translate(1014.80,57.80)" font-size="14.5">g</text>
<text transform="translate(1023.15,48.80) scale(1,1.0450)" font-size="26" xml:space="preserve">=0 eV</text>
<text transform="translate(998.15,89.97) scale(1.0000,1.0450)" font-size="26">V</text>
<text transform="translate(1014.80,98.86)" font-size="14.5">g</text>
<text transform="translate(1023.15,89.86) scale(1,1.0450)" font-size="26" xml:space="preserve">=0.05 eV</text>
<text transform="translate(998.15,131.03) scale(1.0000,1.0450)" font-size="26">V</text>
<text transform="translate(1014.80,139.92)" font-size="14.5">g</text>
<text transform="translate(1023.15,130.92) scale(1,1.0450)" font-size="26" xml:space="preserve">=0. 0 eV</text><path transform="translate(1060.02,130.92) scale(26.000,27.170)" d="M0.372 0 L0.284 0 L0.284 -0.549 Q0.20 -0.48 0.110 -0.444 L0.110 -0.541 Q0.23 -0.59 0.313 -0.700 L0.372 -0.700 Z"/>
<text transform="translate(998.15,172.09) scale(1.0000,1.0450)" font-size="26">V</text>
<text transform="translate(1014.80,180.98)" font-size="14.5">g</text>
<text transform="translate(1023.15,171.98) scale(1,1.0450)" font-size="26" xml:space="preserve">=0.25 eV</text>
<text transform="translate(998.15,213.15) scale(1.0000,1.0450)" font-size="26">V</text>
<text transform="translate(1014.80,222.04)" font-size="14.5">g</text>
<text transform="translate(1023.15,213.04) scale(1,1.0450)" font-size="26" xml:space="preserve">=0.30 eV</text>
<text transform="translate(998.15,254.21) scale(1.0000,1.0450)" font-size="26">V</text>
<text transform="translate(1014.80,263.10)" font-size="14.5">g</text>
<text transform="translate(1023.15,254.10) scale(1,1.0450)" font-size="26" xml:space="preserve">=0.40 eV</text>
</svg>
</body></html>
